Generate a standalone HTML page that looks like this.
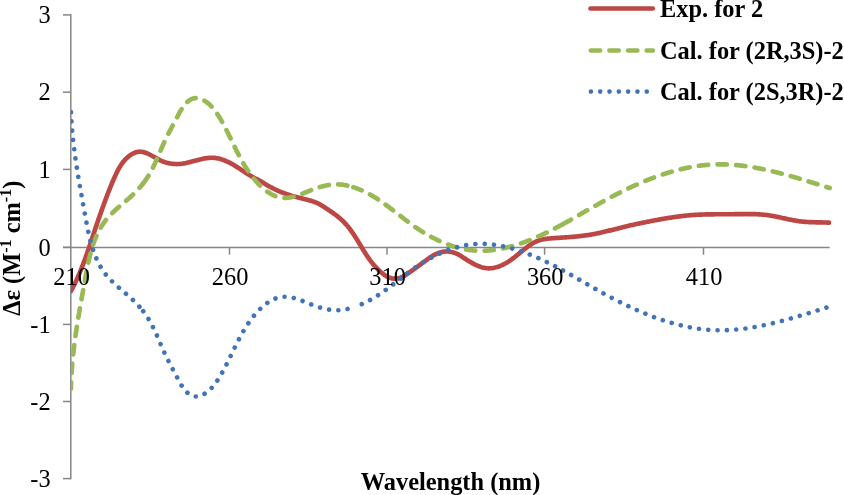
<!DOCTYPE html>
<html><head><meta charset="utf-8"><style>
html,body{margin:0;padding:0;background:#fff;width:844px;height:495px;overflow:hidden}
svg{display:block;will-change:transform}
.t{font-family:"Liberation Serif",serif;font-size:24.4px;fill:#000}
.b{font-family:"Liberation Serif",serif;font-size:24.4px;font-weight:bold;fill:#000}
</style></head><body>
<svg width="844" height="495" viewBox="0 0 844 495">
<defs><clipPath id="pa"><rect x="71" y="0" width="773" height="495"/></clipPath></defs>
<g stroke="#868686" stroke-width="1.5" fill="none">
<line x1="70.8" y1="14.15" x2="70.8" y2="479.35"/>
<line x1="63" y1="14.9" x2="71" y2="14.9"/>
<line x1="63" y1="92.2" x2="71" y2="92.2"/>
<line x1="63" y1="169.4" x2="71" y2="169.4"/>
<line x1="63" y1="247.3" x2="71" y2="247.3"/>
<line x1="63" y1="324.4" x2="71" y2="324.4"/>
<line x1="63" y1="401.5" x2="71" y2="401.5"/>
<line x1="63" y1="478.6" x2="71" y2="478.6"/>
<line x1="63" y1="247.5" x2="829.7" y2="247.5"/>
<line x1="229.5" y1="247.5" x2="229.5" y2="254.7"/>
<line x1="387" y1="247.5" x2="387" y2="254.7"/>
<line x1="544.6" y1="247.5" x2="544.6" y2="254.7"/>
<line x1="703.5" y1="247.5" x2="703.5" y2="254.7"/>
</g>
<g clip-path="url(#pa)" fill="none" stroke-width="4.65" stroke-linecap="round" stroke-linejoin="round">
<path d="M70.91,291.07L71.39,290.19L71.87,289.31L72.34,288.43L72.81,287.54L73.27,286.65L73.72,285.76L74.17,284.87L74.61,283.97L75.05,283.07L75.49,282.17L75.92,281.27L76.34,280.37L76.76,279.46L77.18,278.56L77.59,277.65L77.99,276.73L78.40,275.82L78.79,274.91L79.19,273.99L79.58,273.07L79.96,272.15L80.35,271.23L80.72,270.30L81.10,269.38L81.47,268.45L81.84,267.53L82.21,266.60L82.57,265.67L82.93,264.73L83.28,263.80L83.63,262.87L83.99,261.93L84.33,260.99L84.68,260.06L85.02,259.12L85.36,258.18L85.70,257.24L86.03,256.30L86.37,255.35L86.70,254.41L87.03,253.47L87.36,252.52L87.68,251.58L88.01,250.63L88.33,249.68L88.65,248.74L88.97,247.79L89.29,246.84L89.61,245.89L89.93,244.94L90.25,243.99L90.56,243.04L90.88,242.09L91.19,241.14L91.51,240.19L91.82,239.24L92.13,238.29L92.45,237.34L92.76,236.39L93.07,235.44L93.39,234.49L93.70,233.54L94.02,232.59L94.33,231.64L94.64,230.69L94.96,229.74L95.28,228.79L95.59,227.84L95.91,226.90L96.23,225.95L96.55,225.00L96.87,224.05L97.19,223.11L97.52,222.16L97.84,221.22L98.17,220.27L98.49,219.33L98.82,218.38L99.15,217.44L99.48,216.50L99.81,215.55L100.14,214.61L100.48,213.67L100.81,212.73L101.14,211.79L101.48,210.85L101.82,209.90L102.15,208.96L102.49,208.02L102.83,207.08L103.17,206.14L103.51,205.21L103.86,204.27L104.20,203.33L104.54,202.39L104.89,201.45L105.23,200.51L105.58,199.58L105.93,198.64L106.28,197.70L106.63,196.76L106.98,195.83L107.33,194.89L107.69,193.96L108.05,193.02L108.41,192.09L108.77,191.16L109.13,190.23L109.50,189.30L109.86,188.37L110.23,187.44L110.61,186.51L110.98,185.59L111.36,184.67L111.75,183.74L112.13,182.82L112.52,181.91L112.91,180.99L113.31,180.07L113.71,179.16L114.11,178.25L114.52,177.34L114.93,176.44L115.35,175.53L115.77,174.63L116.19,173.73L116.62,172.83L117.06,171.94L117.50,171.05L117.96,170.17L118.43,169.29L118.91,168.42L119.40,167.55L119.91,166.69L120.43,165.84L120.97,165.00L121.54,164.17L122.12,163.35L122.72,162.54L123.35,161.74L124.00,160.95L124.68,160.17L125.39,159.41L126.12,158.67L126.87,157.94L127.65,157.24L128.44,156.57L129.25,155.93L130.08,155.32L130.93,154.74L131.79,154.21L132.66,153.72L133.54,153.27L134.44,152.87L135.34,152.53L136.25,152.23L137.16,152.00L138.08,151.83L139.00,151.72L139.92,151.68L140.84,151.70L141.76,151.79L142.68,151.94L143.60,152.14L144.52,152.40L145.44,152.70L146.36,153.04L147.28,153.42L148.20,153.83L149.12,154.27L150.04,154.73L150.97,155.22L151.89,155.72L152.82,156.23L153.74,156.76L154.67,157.28L155.60,157.81L156.53,158.32L157.46,158.83L158.39,159.33L159.32,159.81L160.26,160.27L161.20,160.70L162.13,161.10L163.07,161.47L164.02,161.82L164.96,162.15L165.90,162.44L166.85,162.72L167.80,162.96L168.75,163.18L169.70,163.38L170.65,163.54L171.61,163.69L172.57,163.81L173.53,163.90L174.49,163.98L175.45,164.02L176.41,164.05L177.38,164.05L178.35,164.02L179.32,163.98L180.29,163.91L181.26,163.81L182.24,163.70L183.22,163.56L184.19,163.40L185.18,163.23L186.16,163.03L187.14,162.82L188.13,162.59L189.11,162.36L190.10,162.11L191.09,161.85L192.08,161.59L193.07,161.32L194.06,161.05L195.05,160.78L196.04,160.51L197.04,160.24L198.03,159.97L199.02,159.72L200.01,159.47L201.00,159.23L201.99,159.00L202.98,158.78L203.97,158.58L204.96,158.40L205.95,158.24L206.93,158.10L207.92,157.98L208.90,157.88L209.88,157.81L210.86,157.77L211.84,157.77L212.81,157.79L213.79,157.84L214.76,157.93L215.73,158.05L216.69,158.20L217.66,158.38L218.62,158.59L219.58,158.82L220.53,159.08L221.48,159.37L222.43,159.68L223.37,160.01L224.31,160.36L225.24,160.74L226.17,161.13L227.10,161.54L228.02,161.97L228.94,162.42L229.85,162.88L230.75,163.35L231.65,163.84L232.55,164.33L233.44,164.84L234.32,165.36L235.20,165.89L236.07,166.42L236.93,166.97L237.79,167.51L238.64,168.06L239.48,168.61L240.32,169.17L241.15,169.73L241.98,170.28L242.80,170.84L243.61,171.39L244.43,171.94L245.25,172.48L246.07,173.02L246.89,173.56L247.71,174.09L248.54,174.61L249.38,175.12L250.22,175.62L251.08,176.11L251.94,176.60L252.81,177.07L253.68,177.54L254.56,178.01L255.45,178.48L256.33,178.94L257.21,179.41L258.10,179.88L258.98,180.36L259.86,180.84L260.73,181.34L261.60,181.84L262.47,182.35L263.33,182.86L264.19,183.38L265.06,183.90L265.92,184.41L266.78,184.93L267.64,185.44L268.51,185.94L269.38,186.44L270.25,186.93L271.13,187.41L272.01,187.88L272.90,188.34L273.79,188.78L274.69,189.22L275.58,189.65L276.49,190.07L277.40,190.48L278.31,190.89L279.22,191.28L280.14,191.66L281.06,192.04L281.99,192.41L282.92,192.77L283.85,193.12L284.79,193.46L285.73,193.80L286.67,194.13L287.62,194.45L288.57,194.77L289.52,195.08L290.47,195.38L291.43,195.67L292.39,195.96L293.35,196.24L294.31,196.52L295.28,196.79L296.25,197.06L297.22,197.31L298.19,197.57L299.17,197.82L300.14,198.06L301.12,198.30L302.10,198.54L303.08,198.77L304.06,199.01L305.04,199.24L306.02,199.48L306.99,199.72L307.96,199.97L308.93,200.23L309.89,200.49L310.85,200.77L311.80,201.06L312.74,201.36L313.67,201.67L314.60,202.00L315.52,202.35L316.43,202.72L317.33,203.11L318.22,203.52L319.09,203.95L319.95,204.41L320.81,204.90L321.65,205.40L322.48,205.93L323.31,206.46L324.14,207.01L324.96,207.56L325.79,208.11L326.62,208.67L327.45,209.22L328.28,209.78L329.12,210.34L329.95,210.91L330.78,211.47L331.61,212.04L332.44,212.62L333.26,213.20L334.08,213.79L334.89,214.38L335.70,214.98L336.50,215.59L337.29,216.20L338.08,216.83L338.85,217.46L339.62,218.10L340.38,218.75L341.12,219.41L341.85,220.08L342.58,220.76L343.28,221.46L343.98,222.16L344.66,222.88L345.34,223.60L346.00,224.34L346.65,225.09L347.29,225.84L347.92,226.60L348.54,227.38L349.16,228.16L349.76,228.94L350.36,229.74L350.95,230.54L351.53,231.35L352.10,232.16L352.67,232.98L353.23,233.81L353.79,234.64L354.34,235.47L354.88,236.31L355.43,237.15L355.96,238.00L356.50,238.85L357.03,239.70L357.56,240.56L358.08,241.41L358.61,242.27L359.13,243.13L359.65,243.99L360.18,244.85L360.70,245.71L361.22,246.57L361.74,247.43L362.27,248.29L362.79,249.15L363.32,250.00L363.85,250.86L364.38,251.71L364.91,252.56L365.45,253.40L366.00,254.24L366.54,255.08L367.10,255.91L367.65,256.74L368.22,257.56L368.79,258.38L369.36,259.19L369.95,260.00L370.54,260.80L371.14,261.59L371.74,262.37L372.36,263.15L372.98,263.92L373.62,264.68L374.26,265.44L374.92,266.19L375.59,266.93L376.27,267.66L376.96,268.39L377.67,269.11L378.39,269.82L379.12,270.53L379.87,271.22L380.63,271.91L381.41,272.58L382.21,273.25L383.01,273.89L383.83,274.51L384.67,275.10L385.52,275.65L386.38,276.18L387.26,276.66L388.14,277.10L389.04,277.50L389.96,277.84L390.88,278.12L391.81,278.35L392.76,278.51L393.72,278.61L394.68,278.65L395.65,278.62L396.62,278.53L397.58,278.38L398.54,278.18L399.50,277.92L400.44,277.60L401.37,277.24L402.29,276.83L403.20,276.38L404.10,275.90L404.99,275.38L405.86,274.84L406.73,274.28L407.59,273.70L408.44,273.12L409.27,272.53L410.11,271.93L410.93,271.35L411.75,270.77L412.56,270.19L413.36,269.62L414.16,269.05L414.96,268.49L415.75,267.92L416.55,267.35L417.34,266.78L418.13,266.21L418.93,265.63L419.72,265.04L420.52,264.45L421.33,263.84L422.14,263.23L422.95,262.62L423.77,262.00L424.59,261.38L425.42,260.77L426.26,260.15L427.09,259.54L427.94,258.94L428.79,258.35L429.64,257.77L430.50,257.20L431.37,256.64L432.24,256.11L433.12,255.59L434.00,255.09L434.89,254.62L435.79,254.17L436.69,253.75L437.60,253.36L438.52,253.00L439.44,252.68L440.38,252.38L441.31,252.13L442.26,251.91L443.21,251.74L444.18,251.61L445.14,251.52L446.12,251.48L447.10,251.49L448.08,251.53L449.06,251.62L450.04,251.75L451.02,251.92L451.99,252.12L452.95,252.37L453.90,252.65L454.84,252.97L455.76,253.32L456.67,253.70L457.56,254.12L458.44,254.57L459.30,255.04L460.15,255.54L461.00,256.05L461.84,256.59L462.68,257.13L463.52,257.68L464.36,258.24L465.21,258.80L466.07,259.36L466.94,259.91L467.81,260.47L468.70,261.01L469.59,261.55L470.48,262.08L471.39,262.61L472.30,263.11L473.21,263.61L474.13,264.09L475.06,264.55L475.99,264.99L476.92,265.41L477.86,265.82L478.81,266.19L479.75,266.55L480.70,266.87L481.66,267.17L482.61,267.43L483.57,267.67L484.53,267.87L485.49,268.04L486.45,268.17L487.41,268.26L488.38,268.31L489.34,268.32L490.30,268.29L491.27,268.23L492.23,268.12L493.19,267.98L494.15,267.81L495.10,267.60L496.05,267.36L497.00,267.09L497.95,266.79L498.89,266.46L499.82,266.10L500.75,265.72L501.67,265.32L502.59,264.89L503.50,264.44L504.40,263.97L505.30,263.48L506.18,262.98L507.06,262.46L507.93,261.92L508.79,261.37L509.63,260.81L510.47,260.24L511.30,259.65L512.11,259.06L512.92,258.46L513.72,257.86L514.51,257.25L515.29,256.63L516.07,256.01L516.84,255.38L517.61,254.75L518.38,254.12L519.14,253.49L519.90,252.85L520.67,252.22L521.43,251.59L522.20,250.95L522.97,250.32L523.74,249.70L524.52,249.08L525.31,248.46L526.10,247.84L526.90,247.24L527.71,246.64L528.52,246.05L529.35,245.47L530.19,244.89L531.05,244.33L531.91,243.78L532.79,243.26L533.67,242.75L534.57,242.28L535.47,241.83L536.39,241.42L537.31,241.04L538.25,240.69L539.18,240.38L540.13,240.10L541.08,239.84L542.04,239.61L543.01,239.40L543.98,239.22L544.96,239.05L545.94,238.90L546.92,238.77L547.91,238.66L548.90,238.55L549.89,238.46L550.89,238.37L551.88,238.29L552.88,238.22L553.88,238.15L554.88,238.08L555.87,238.01L556.87,237.94L557.87,237.88L558.87,237.81L559.87,237.74L560.87,237.68L561.86,237.61L562.86,237.55L563.86,237.48L564.86,237.41L565.86,237.34L566.85,237.27L567.85,237.20L568.85,237.13L569.84,237.05L570.84,236.97L571.84,236.89L572.83,236.81L573.83,236.73L574.82,236.64L575.82,236.55L576.81,236.45L577.80,236.35L578.80,236.25L579.79,236.14L580.78,236.03L581.77,235.92L582.76,235.80L583.75,235.67L584.74,235.54L585.72,235.41L586.71,235.27L587.70,235.12L588.68,234.97L589.66,234.81L590.65,234.64L591.63,234.47L592.61,234.29L593.59,234.11L594.57,233.92L595.55,233.73L596.53,233.53L597.51,233.33L598.48,233.12L599.46,232.91L600.44,232.70L601.41,232.48L602.39,232.25L603.36,232.03L604.33,231.80L605.31,231.57L606.28,231.34L607.25,231.10L608.23,230.86L609.20,230.62L610.17,230.38L611.14,230.14L612.12,229.89L613.09,229.65L614.06,229.40L615.03,229.16L616.00,228.91L616.98,228.67L617.95,228.42L618.92,228.18L619.89,227.93L620.86,227.69L621.84,227.45L622.81,227.21L623.78,226.97L624.76,226.73L625.73,226.50L626.70,226.26L627.68,226.03L628.65,225.80L629.63,225.58L630.61,225.35L631.58,225.13L632.56,224.91L633.54,224.69L634.51,224.48L635.49,224.26L636.47,224.05L637.45,223.84L638.42,223.63L639.40,223.42L640.38,223.22L641.36,223.01L642.34,222.81L643.32,222.61L644.30,222.41L645.28,222.21L646.26,222.02L647.24,221.82L648.22,221.63L649.20,221.44L650.18,221.25L651.16,221.06L652.15,220.87L653.13,220.68L654.11,220.50L655.09,220.31L656.07,220.13L657.06,219.95L658.04,219.77L659.02,219.59L660.01,219.41L660.99,219.24L661.97,219.06L662.96,218.89L663.94,218.72L664.93,218.55L665.91,218.38L666.90,218.22L667.88,218.06L668.87,217.90L669.85,217.74L670.84,217.59L671.83,217.44L672.81,217.29L673.80,217.14L674.79,217.00L675.77,216.86L676.76,216.72L677.75,216.59L678.74,216.46L679.73,216.33L680.72,216.21L681.71,216.09L682.70,215.97L683.69,215.86L684.68,215.75L685.68,215.65L686.67,215.55L687.66,215.45L688.65,215.36L689.65,215.28L690.64,215.19L691.64,215.12L692.63,215.04L693.63,214.97L694.62,214.91L695.62,214.85L696.62,214.79L697.62,214.74L698.61,214.69L699.61,214.65L700.61,214.60L701.61,214.57L702.61,214.53L703.61,214.50L704.61,214.47L705.61,214.44L706.61,214.42L707.61,214.40L708.61,214.38L709.61,214.36L710.61,214.34L711.62,214.33L712.62,214.32L713.62,214.31L714.62,214.30L715.63,214.29L716.63,214.28L717.63,214.28L718.63,214.27L719.64,214.27L720.64,214.26L721.64,214.26L722.64,214.26L723.65,214.25L724.65,214.25L725.65,214.25L726.66,214.24L727.66,214.24L728.66,214.24L729.66,214.23L730.67,214.22L731.67,214.22L732.67,214.21L733.67,214.20L734.67,214.19L735.68,214.17L736.68,214.16L737.68,214.15L738.68,214.13L739.68,214.12L740.68,214.10L741.68,214.09L742.68,214.08L743.68,214.07L744.68,214.06L745.68,214.05L746.68,214.05L747.68,214.05L748.67,214.05L749.67,214.05L750.67,214.06L751.66,214.08L752.66,214.09L753.66,214.12L754.65,214.15L755.65,214.18L756.64,214.22L757.63,214.27L758.63,214.32L759.62,214.38L760.61,214.45L761.60,214.53L762.59,214.61L763.58,214.70L764.57,214.80L765.56,214.91L766.55,215.03L767.54,215.16L768.53,215.30L769.51,215.45L770.50,215.61L771.49,215.77L772.47,215.95L773.45,216.13L774.44,216.31L775.42,216.51L776.41,216.70L777.39,216.90L778.37,217.11L779.36,217.32L780.34,217.53L781.32,217.74L782.30,217.95L783.29,218.17L784.27,218.38L785.25,218.60L786.24,218.81L787.22,219.02L788.20,219.23L789.19,219.43L790.17,219.64L791.16,219.83L792.14,220.03L793.13,220.21L794.12,220.39L795.10,220.57L796.09,220.74L797.08,220.89L798.07,221.04L799.06,221.19L800.05,221.32L801.04,221.44L802.04,221.55L803.03,221.65L804.02,221.74L805.02,221.82L806.02,221.89L807.01,221.96L808.01,222.02L809.01,222.07L810.01,222.12L811.00,222.16L812.00,222.19L813.00,222.23L814.00,222.26L815.00,222.28L816.00,222.31L817.00,222.33L818.00,222.35L819.00,222.37L820.00,222.39L821.00,222.41L822.00,222.43L823.00,222.45L824.00,222.48L825.00,222.51L826.00,222.54L827.00,222.58L828.00,222.62L829.00,222.67" stroke="#BC4744"/>
<path d="M70.92,388.68L70.93,388.16L70.94,387.64L70.95,387.12L70.97,386.60L70.98,386.09L71.00,385.57L71.01,385.05L71.03,384.54L71.05,384.02L71.06,383.51L71.08,382.99L71.10,382.48L71.12,381.97L71.14,381.45L71.16,380.94L71.19,380.43L71.21,379.92L71.23,379.41L71.26,378.89L71.28,378.38L71.31,377.87L71.33,377.36L71.36,376.85L71.39,376.35L71.41,375.84L71.44,375.33L71.47,374.82L71.50,374.31L71.53,373.81L71.56,373.30L71.60,372.79L71.63,372.29L71.66,371.78L71.69,371.28L71.73,370.77L71.76,370.27L71.80,369.76L71.83,369.26L71.87,368.76L71.91,368.25L71.95,367.75L71.98,367.25L72.02,366.75L72.06,366.25L72.10,365.74L72.14,365.24L72.19,364.74L72.23,364.24L72.27,363.74L72.31,363.24L72.36,362.74L72.40,362.24L72.45,361.74L72.49,361.25L72.54,360.75L72.58,360.25L72.63,359.75L72.68,359.25L72.73,358.76L72.77,358.26L72.82,357.76L72.87,357.27L72.92,356.77L72.97,356.28L73.02,355.78L73.08,355.28L73.13,354.79L73.18,354.29L73.23,353.80L73.29,353.30L73.34,352.81L73.40,352.32L73.45,351.82L73.51,351.33L73.56,350.84L73.62,350.34L73.68,349.85L73.73,349.36L73.79,348.86L73.85,348.37L73.91,347.88L73.97,347.39L74.03,346.90L74.09,346.40L74.15,345.91L74.21,345.42L74.27,344.93L74.33,344.44L74.39,343.95L74.46,343.46L74.52,342.97L74.58,342.48L74.65,341.99L74.71,341.50L74.78,341.01L74.84,340.52L74.91,340.03L74.97,339.54L75.04,339.05L75.11,338.56L75.18,338.07L75.24,337.58L75.31,337.09L75.38,336.60L75.45,336.11L75.52,335.63L75.59,335.14L75.66,334.65L75.73,334.16L75.80,333.67L75.87,333.18L75.94,332.70L76.01,332.21L76.09,331.72L76.16,331.23L76.23,330.74L76.30,330.26L76.38,329.77L76.45,329.28L76.53,328.79L76.60,328.31L76.68,327.82L76.75,327.33L76.83,326.84L76.90,326.36L76.98,325.87L77.05,325.38L77.13,324.89L77.21,324.41L77.29,323.92L77.36,323.43L77.44,322.95L77.52,322.46L77.60,321.97L77.68,321.48L77.76,321.00L77.83,320.51L77.91,320.02L77.99,319.53L78.07,319.05L78.15,318.56L78.24,318.07L78.32,317.58L78.40,317.10L78.48,316.61L78.56,316.12L78.64,315.63L78.72,315.15L78.81,314.66L78.89,314.17L78.97,313.68L79.06,313.20L79.14,312.71L79.22,312.22L79.31,311.73L79.39,311.24L79.47,310.75L79.56,310.27L79.64,309.78L79.73,309.29L79.81,308.80L79.90,308.31L79.98,307.82L80.07,307.33L80.15,306.84L80.24,306.36L80.33,305.87L80.41,305.38L80.50,304.89L80.59,304.40L80.67,303.91L80.76,303.42L80.85,302.93L80.93,302.44L81.02,301.95L81.11,301.46L81.20,300.96L81.28,300.47L81.37,299.98L81.46,299.49L81.55,299.00L81.64,298.51L81.73,298.02L81.81,297.52L81.90,297.03L81.99,296.54L82.08,296.05L82.17,295.55L82.26,295.06L82.35,294.57L82.44,294.07L82.53,293.58L82.62,293.09L82.71,292.59L82.80,292.10L82.89,291.60L82.98,291.11L83.07,290.61L83.16,290.12L83.25,289.62L83.34,289.13L83.43,288.63L83.52,288.14L83.61,287.64L83.70,287.14L83.79,286.65L83.88,286.15L83.97,285.65L84.06,285.15L84.15,284.65L84.24,284.16L84.33,283.66L84.42,283.16L84.51,282.66L84.60,282.16L84.69,281.66L84.78,281.16L84.87,280.66L84.97,280.16L85.06,279.66L85.15,279.16L85.24,278.65L85.33,278.15L85.42,277.65L85.51,277.15L85.60,276.65L85.70,276.14L85.79,275.64L85.88,275.14L85.97,274.63L86.06,274.13L86.16,273.63L86.25,273.13L86.35,272.62L86.44,272.12L86.53,271.62L86.63,271.11L86.73,270.61L86.82,270.11L86.92,269.60L87.02,269.10L87.11,268.60L87.21,268.10L87.31,267.59L87.41,267.09L87.51,266.59L87.61,266.09L87.72,265.59L87.82,265.08L87.92,264.58L88.03,264.08L88.13,263.58L88.24,263.08L88.34,262.58L88.45,262.08L88.56,261.58L88.67,261.08L88.78,260.59L88.89,260.09L89.01,259.59L89.12,259.09L89.24,258.60L89.35,258.10L89.47,257.61L89.59,257.11L89.71,256.62L89.83,256.13L89.95,255.63L90.07,255.14L90.20,254.65L90.33,254.16L90.45,253.67L90.58,253.18L90.71,252.69L90.84,252.20L90.98,251.71L91.11,251.23L91.25,250.74L91.39,250.26L91.52,249.77L91.66,249.29L91.81,248.81L91.95,248.33L92.10,247.84L92.24,247.37L92.39,246.89L92.54,246.41L92.70,245.93L92.85,245.46L93.01,244.98L93.16,244.51L93.32,244.04L93.49,243.56L93.65,243.09L93.82,242.63L93.98,242.16L94.15,241.69L94.32,241.22L94.50,240.76L94.67,240.30L94.85,239.83L95.03,239.37L95.21,238.91L95.40,238.46L95.58,238.00L95.77,237.54L95.96,237.09L96.15,236.64L96.35,236.18L96.55,235.73L96.75,235.29L96.95,234.84L97.15,234.39L97.36,233.95L97.57,233.51L97.78,233.06L98.00,232.62L98.21,232.19L98.43,231.75L98.65,231.31L98.88,230.88L99.11,230.45L99.34,230.02L99.57,229.59L99.80,229.16L100.04,228.74L100.28,228.32L100.53,227.89L100.77,227.47L101.02,227.06L101.27,226.64L101.53,226.22L101.79,225.81L102.05,225.40L102.31,224.99L102.58,224.59L102.85,224.18L103.12,223.78L103.39,223.38L103.67,222.98L103.95,222.58L104.24,222.18L104.53,221.79L104.82,221.40L105.11,221.01L105.41,220.62L105.71,220.24L106.01,219.86L106.32,219.48L106.63,219.10L106.95,218.72L107.26,218.35L107.58,217.97L107.91,217.60L108.23,217.23L108.56,216.87L108.89,216.50L109.23,216.14L109.56,215.78L109.90,215.42L110.25,215.06L110.59,214.71L110.94,214.35L111.29,214.00L111.64,213.65L111.99,213.29L112.35,212.95L112.71,212.60L113.07,212.25L113.43,211.91L113.79,211.56L114.16,211.22L114.52,210.88L114.89,210.54L115.26,210.20L115.63,209.86L116.01,209.52L116.38,209.18L116.75,208.85L117.13,208.51L117.51,208.18L117.89,207.84L118.27,207.51L118.65,207.18L119.03,206.85L119.41,206.52L119.79,206.19L120.17,205.85L120.56,205.52L120.94,205.20L121.33,204.87L121.71,204.54L122.10,204.21L122.48,203.88L122.87,203.55L123.25,203.22L123.64,202.89L124.02,202.56L124.41,202.24L124.79,201.91L125.18,201.58L125.56,201.25L125.94,200.92L126.33,200.59L126.71,200.26L127.09,199.93L127.47,199.60L127.85,199.27L128.23,198.94L128.61,198.61L128.98,198.27L129.36,197.94L129.73,197.61L130.11,197.27L130.48,196.93L130.85,196.60L131.22,196.26L131.59,195.92L131.95,195.58L132.32,195.24L132.68,194.90L133.04,194.56L133.40,194.22L133.76,193.87L134.11,193.53L134.46,193.18L134.82,192.83L135.16,192.48L135.51,192.13L135.86,191.78L136.20,191.43L136.54,191.07L136.88,190.72L137.22,190.36L137.55,190.00L137.89,189.64L138.22,189.28L138.55,188.92L138.87,188.55L139.20,188.19L139.52,187.82L139.84,187.45L140.16,187.08L140.48,186.71L140.80,186.34L141.11,185.96L141.42,185.59L141.73,185.21L142.04,184.83L142.34,184.45L142.64,184.06" stroke="#98B954" stroke-dasharray="9.31 9.31" stroke-dashoffset="2.9"/>
<path d="M142.64,184.06L142.95,183.68L143.25,183.29L143.54,182.91L143.84,182.52L144.13,182.12L144.42,181.73L144.71,181.34L145.00,180.94L145.28,180.54L145.56,180.14L145.84,179.74L146.12,179.33L146.40,178.93L146.67,178.52L146.94,178.11L147.21,177.69L147.48,177.28L147.75,176.86L148.01,176.45L148.27,176.03L148.53,175.60L148.79,175.18L149.05,174.75L149.30,174.32L149.55,173.89L149.80,173.46L150.05,173.03L150.29,172.59L150.54,172.15L150.78,171.71L151.02,171.27L151.26,170.83L151.49,170.38L151.73,169.94L151.96,169.49L152.19,169.04L152.42,168.59L152.65,168.14L152.88,167.69L153.11,167.23L153.33,166.78L153.55,166.32L153.77,165.87L154.00,165.41L154.21,164.95L154.43,164.49L154.65,164.03L154.87,163.56L155.08,163.10L155.29,162.64L155.51,162.17L155.72,161.71L155.93,161.24L156.14,160.78L156.35,160.31L156.56,159.84L156.76,159.38L156.97,158.91L157.18,158.44L157.38,157.97L157.59,157.50L157.79,157.03L157.99,156.57L158.20,156.10L158.40,155.63L158.60,155.16L158.80,154.69L159.01,154.22L159.21,153.75L159.41,153.28L159.61,152.82L159.81,152.35L160.01,151.88L160.21,151.41L160.41,150.95L160.61,150.48L160.81,150.02L161.01,149.55L161.21,149.09L161.41,148.62L161.61,148.16L161.81,147.70L162.01,147.24L162.21,146.78L162.41,146.32L162.62,145.86L162.82,145.40L163.02,144.94L163.22,144.49L163.43,144.03L163.63,143.58L163.83,143.13L164.04,142.68L164.25,142.23L164.45,141.78L164.66,141.34L164.87,140.89L165.08,140.45L165.28,140.01L165.49,139.57L165.71,139.13L165.92,138.69L166.13,138.25L166.34,137.81L166.56,137.38L166.77,136.94L166.99,136.51L167.20,136.08L167.42,135.64L167.63,135.21L167.85,134.78L168.07,134.35L168.29,133.92L168.51,133.49L168.73,133.06L168.95,132.63L169.18,132.20L169.40,131.77L169.62,131.34L169.85,130.91L170.07,130.48L170.30,130.05L170.52,129.61L170.75,129.18L170.98,128.75L171.21,128.32L171.43,127.89L171.66,127.45L171.89,127.02L172.13,126.58L172.36,126.15L172.59,125.71L172.82,125.27L173.06,124.84L173.29,124.40L173.53,123.96L173.76,123.51L174.00,123.07L174.23,122.62L174.47,122.18L174.71,121.73L174.95,121.28L175.19,120.83L175.43,120.38L175.67,119.92L175.91,119.47L176.15,119.01L176.40,118.55L176.64,118.09L176.88,117.62L177.13,117.16L177.37,116.69L177.62,116.22L177.87,115.74L178.12,115.27L178.36,114.80L178.62,114.32L178.87,113.85L179.12,113.37L179.38,112.90L179.64,112.43L179.90,111.96L180.16,111.49L180.42,111.02L180.69,110.56L180.96,110.09L181.24,109.63L181.51,109.18L181.79,108.73L182.08,108.28L182.37,107.84L182.66,107.40L182.95,106.97L183.25,106.54L183.55,106.12L183.86,105.70L184.17,105.30L184.49,104.90L184.81,104.50L185.14,104.12L185.47,103.74L185.81,103.37L186.15,103.01L186.50,102.66L186.86,102.32L187.22,101.99L187.59,101.67L187.96,101.36L188.34,101.06L188.72,100.77L189.12,100.50L189.52,100.23L189.92,99.98L190.33,99.75L190.74,99.52L191.16,99.31L191.59,99.12L192.01,98.94L192.44,98.77L192.88,98.62L193.32,98.49L193.76,98.38L194.20,98.28L194.64,98.20L195.09,98.13L195.54,98.09L195.99,98.07L196.44,98.06L196.89,98.07L197.34,98.11L197.79,98.16L198.24,98.23L198.69,98.31L199.14,98.42L199.59,98.53L200.03,98.67L200.48,98.81L200.92,98.97L201.36,99.14L201.80,99.33L202.23,99.52L202.66,99.73L203.09,99.95L203.51,100.17L203.93,100.41L204.35,100.65L204.76,100.90L205.17,101.15L205.57,101.41L205.97,101.68L206.37,101.96L206.76,102.24L207.14,102.53L207.53,102.83L207.91,103.13L208.28,103.44L208.65,103.75L209.02,104.07L209.38,104.40L209.74,104.73L210.09,105.07L210.45,105.41L210.79,105.76L211.14,106.11L211.48,106.47L211.82,106.83L212.15,107.20L212.48,107.57L212.81,107.94L213.14,108.32L213.46,108.71L213.78,109.10L214.09,109.49L214.41,109.88L214.72,110.28L215.02,110.69L215.33,111.09L215.63,111.50L215.93,111.92L216.22,112.33L216.52,112.75L216.81,113.18L217.10,113.60L217.38,114.03L217.66,114.46L217.95,114.89L218.22,115.33L218.50,115.76L218.78,116.20L219.05,116.64L219.32,117.08L219.59,117.53L219.85,117.97L220.12,118.42L220.38,118.87L220.64,119.31L220.90,119.76L221.16,120.21L221.41,120.66L221.67,121.12L221.92,121.57L222.17,122.02L222.42,122.47L222.67,122.92L222.92,123.38L223.16,123.83L223.41,124.28L223.65,124.74L223.89,125.19L224.13,125.64L224.37,126.09L224.61,126.55L224.85,127.00L225.08,127.45L225.32,127.91L225.55,128.36L225.79,128.81L226.02,129.27L226.25,129.72L226.48,130.17L226.71,130.62L226.94,131.08L227.17,131.53L227.39,131.98L227.62,132.44L227.85,132.89L228.07,133.34L228.29,133.79L228.52,134.25L228.74,134.70L228.96,135.15L229.19,135.60L229.41,136.06L229.63,136.51L229.85,136.96L230.07,137.41L230.29,137.86L230.51,138.31L230.73,138.76L230.95,139.22L231.17,139.67L231.38,140.12L231.60,140.57L231.82,141.02L232.04,141.47L232.26,141.92L232.47,142.36L232.69,142.81L232.91,143.26L233.13,143.71L233.34,144.16L233.56,144.61L233.78,145.05L234.00,145.50L234.21,145.95L234.43,146.39L234.65,146.84L234.87,147.29L235.09,147.73L235.31,148.18L235.53,148.62L235.75,149.06L235.97,149.51L236.19,149.95L236.41,150.40L236.63,150.84L236.85,151.28L237.08,151.72L237.30,152.16L237.52,152.60L237.75,153.04L237.97,153.48L238.20,153.92L238.43,154.36L238.65,154.80L238.88,155.24L239.11,155.68L239.34,156.11L239.57,156.55L239.80,156.98L240.04,157.42L240.27,157.85L240.51,158.29L240.74,158.72L240.98,159.15L241.22,159.59L241.45,160.02L241.69,160.45L241.94,160.88L242.18,161.31L242.42,161.74L242.67,162.17L242.91,162.60L243.16,163.02L243.41,163.45L243.66,163.87L243.91,164.30L244.17,164.72L244.42,165.15L244.68,165.57L244.93,165.99L245.19,166.41L245.45,166.84L245.72,167.26L245.98,167.67L246.25,168.09L246.51,168.51L246.78,168.93L247.05,169.34L247.33,169.76L247.60,170.17L247.88,170.59L248.16,171.00L248.44,171.41L248.72,171.82L249.00,172.23L249.29,172.64L249.58,173.05L249.87,173.46L250.16,173.87L250.46,174.27L250.75,174.68L251.05,175.08L251.36,175.48L251.66,175.89L251.96,176.29L252.27,176.69L252.58,177.09L252.90,177.49L253.21,177.88L253.53,178.28L253.85,178.67L254.17,179.07L254.50,179.46L254.83,179.85L255.16,180.25L255.49,180.64L255.82,181.02L256.16,181.41L256.50,181.79L256.85,182.18L257.19,182.56L257.54,182.94L257.89,183.32L258.24,183.69L258.59,184.06L258.95,184.43L259.31,184.80L259.67,185.16L260.04,185.53L260.40,185.89L260.77,186.24L261.14,186.59L261.51,186.94L261.89,187.29L262.27,187.63L262.65,187.97L263.03,188.31L263.41,188.64L263.80,188.97L264.19,189.29L264.58,189.61L264.97,189.92L265.37,190.24L265.76,190.54L266.16,190.84L266.56,191.14L266.97,191.43L267.37,191.72L267.78,192.00L268.19,192.28L268.60,192.55L269.01,192.82L269.43,193.08L269.84,193.33L270.26,193.58L270.68,193.83L271.11,194.07L271.53,194.30L271.96,194.52L272.39,194.74L272.82,194.96L273.25,195.16L273.68,195.36L274.12,195.56L274.56,195.74L275.00,195.92L275.44,196.10L275.88,196.26L276.32,196.42L276.77,196.57L277.22,196.71L277.67,196.85L278.12,196.98L278.57,197.10L279.03,197.21L279.49,197.31L279.94,197.41L280.40,197.50L280.87,197.57L281.33,197.65L281.79,197.71L282.26,197.76L282.73,197.81L283.20,197.84L283.67,197.87L284.14,197.89L284.61,197.89L285.09,197.89L285.57,197.88L286.04,197.86L286.52,197.84L287.00,197.80L287.49,197.76L287.97,197.71L288.45,197.65L288.94,197.58L289.43,197.51L289.91,197.42L290.40,197.34L290.89,197.24L291.38,197.14L291.87,197.03L292.37,196.92L292.86,196.80L293.35,196.67L293.85,196.54L294.34,196.41L294.84,196.27L295.33,196.12L295.83,195.97L296.33,195.82L296.82,195.66L297.32,195.49L297.82,195.33L298.32,195.16L298.82,194.98L299.32,194.81L299.82,194.63L300.31,194.44L300.81,194.26L301.31,194.07L301.81,193.88L302.31,193.69L302.81,193.49L303.31,193.30L303.81,193.10L304.31,192.90L304.81,192.70L305.30,192.50L305.80,192.30L306.30,192.10L306.80,191.90L307.29,191.70L307.79,191.50L308.28,191.30L308.78,191.10L309.27,190.90L309.76,190.71L310.26,190.51L310.75,190.32L311.24,190.12L311.73,189.93L312.22,189.74L312.71,189.56L313.19,189.37L313.68,189.19L314.16,189.01L314.65,188.84L315.13,188.66L315.62,188.49L316.10,188.32L316.58,188.15L317.06,187.99L317.54,187.83L318.02,187.67L318.50,187.51L318.98,187.36L319.46,187.21L319.94,187.07L320.41,186.92L320.89,186.78L321.37,186.65L321.85,186.51L322.32,186.38L322.80,186.26L323.27,186.13L323.75,186.01L324.22,185.90L324.70,185.79L325.18,185.68L325.65,185.57L326.13,185.47L326.60,185.37L327.08,185.28L327.55,185.19L328.03,185.11L328.50,185.03L328.98,184.95L329.45,184.88L329.93,184.81L330.41,184.75L330.88,184.69L331.36,184.63L331.84,184.58L332.31,184.54L332.79,184.50L333.27,184.46L333.75,184.43L334.23,184.40L334.71,184.38L335.19,184.37L335.67,184.35L336.15,184.35L336.64,184.35L337.12,184.35L337.60,184.36L338.09,184.37L338.57,184.39L339.06,184.42L339.55,184.45L340.03,184.48L340.52,184.52L341.01,184.57L341.50,184.62L341.99,184.68L342.48,184.74L342.97,184.80L343.46,184.87L343.95,184.95L344.44,185.03L344.93,185.11L345.43,185.20L345.92,185.29L346.41,185.39L346.90,185.49L347.39,185.60L347.88,185.71L348.37,185.82L348.86,185.94L349.35,186.07L349.85,186.19L350.33,186.32L350.82,186.46L351.31,186.59L351.80,186.74L352.29,186.88L352.78,187.03L353.26,187.18" stroke="#98B954" stroke-dasharray="9.31 9.31" stroke-dashoffset="-0.8"/>
<path d="M353.26,187.18L353.75,187.34L354.23,187.50L354.72,187.66L355.20,187.83L355.68,187.99L356.16,188.17L356.64,188.34L357.12,188.52L357.60,188.70L358.08,188.88L358.55,189.07L359.02,189.26L359.50,189.45L359.97,189.64L360.44,189.84L360.91,190.04L361.37,190.24L361.84,190.45L362.30,190.65L362.76,190.86L363.22,191.07L363.68,191.29L364.14,191.50L364.59,191.72L365.05,191.94L365.50,192.16L365.95,192.38L366.40,192.61L366.84,192.84L367.29,193.07L367.73,193.30L368.18,193.53L368.62,193.77L369.06,194.00L369.50,194.24L369.94,194.48L370.37,194.73L370.81,194.97L371.24,195.22L371.67,195.46L372.10,195.71L372.53,195.97L372.96,196.22L373.39,196.47L373.82,196.73L374.24,196.99L374.67,197.25L375.09,197.51L375.51,197.77L375.93,198.04L376.35,198.30L376.77,198.57L377.19,198.84L377.61,199.11L378.02,199.38L378.44,199.65L378.85,199.92L379.26,200.20L379.68,200.47L380.09,200.75L380.50,201.03L380.91,201.31L381.32,201.59L381.73,201.87L382.13,202.16L382.54,202.44L382.95,202.73L383.35,203.01L383.76,203.30L384.16,203.59L384.56,203.88L384.96,204.17L385.37,204.46L385.77,204.75L386.17,205.04L386.57,205.34L386.97,205.63L387.37,205.93L387.77,206.22L388.17,206.52L388.56,206.82L388.96,207.12L389.36,207.42L389.75,207.72L390.15,208.02L390.55,208.32L390.94,208.62L391.34,208.92L391.73,209.22L392.13,209.52L392.52,209.83L392.92,210.13L393.31,210.44L393.70,210.74L394.10,211.04L394.49,211.35L394.89,211.65L395.28,211.96L395.67,212.27L396.07,212.57L396.46,212.88L396.85,213.19L397.24,213.49L397.64,213.80L398.03,214.11L398.42,214.41L398.82,214.72L399.21,215.03L399.61,215.33L400.00,215.64L400.39,215.95L400.79,216.25L401.18,216.56L401.58,216.87L401.97,217.17L402.37,217.48L402.76,217.79L403.16,218.09L403.55,218.40L403.95,218.70L404.34,219.01L404.74,219.31L405.14,219.62L405.54,219.92L405.94,220.23L406.33,220.53L406.73,220.83L407.13,221.13L407.53,221.44L407.93,221.74L408.33,222.04L408.74,222.34L409.14,222.64L409.54,222.94L409.95,223.23L410.35,223.53L410.76,223.83L411.16,224.13L411.57,224.42L411.97,224.72L412.38,225.01L412.79,225.30L413.20,225.59L413.61,225.89L414.02,226.18L414.43,226.47L414.85,226.75L415.26,227.04L415.68,227.33L416.09,227.61L416.51,227.90L416.93,228.18L417.34,228.46L417.76,228.74L418.18,229.02L418.60,229.30L419.03,229.58L419.45,229.86L419.87,230.13L420.30,230.41L420.72,230.68L421.15,230.95L421.58,231.22L422.00,231.49L422.43,231.76L422.86,232.03L423.29,232.29L423.72,232.56L424.16,232.82L424.59,233.08L425.02,233.35L425.46,233.60L425.89,233.86L426.33,234.12L426.77,234.37L427.20,234.63L427.64,234.88L428.08,235.13L428.52,235.38L428.96,235.63L429.40,235.88L429.84,236.12L430.29,236.36L430.73,236.61L431.18,236.85L431.62,237.09L432.07,237.32L432.51,237.56L432.96,237.79L433.41,238.03L433.86,238.26L434.31,238.49L434.76,238.72L435.21,238.94L435.66,239.17L436.11,239.39L436.56,239.61L437.02,239.83L437.47,240.05L437.93,240.26L438.38,240.48L438.84,240.69L439.30,240.90L439.75,241.11L440.21,241.32L440.67,241.52L441.13,241.73L441.59,241.93L442.05,242.13L442.51,242.32L442.97,242.52L443.43,242.71L443.90,242.91L444.36,243.10L444.82,243.28L445.29,243.47L445.75,243.66L446.22,243.84L446.69,244.02L447.15,244.20L447.62,244.37L448.09,244.55L448.56,244.72L449.03,244.89L449.50,245.06L449.97,245.22L450.44,245.38L450.91,245.55L451.38,245.71L451.85,245.86L452.32,246.02L452.80,246.17L453.27,246.32L453.75,246.47L454.22,246.61L454.69,246.76L455.17,246.90L455.65,247.04L456.12,247.18L456.60,247.31L457.08,247.44L457.55,247.57L458.03,247.70L458.51,247.82L458.99,247.95L459.47,248.07L459.95,248.19L460.43,248.30L460.91,248.41L461.39,248.53L461.87,248.63L462.35,248.74L462.84,248.84L463.32,248.94L463.80,249.04L464.29,249.14L464.77,249.23L465.25,249.32L465.74,249.41L466.22,249.49L466.71,249.57L467.19,249.65L467.68,249.73L468.17,249.81L468.65,249.88L469.14,249.95L469.63,250.01L470.11,250.08L470.60,250.14L471.09,250.20L471.58,250.25L472.07,250.31L472.55,250.36L473.04,250.40L473.53,250.45L474.02,250.49L474.51,250.53L475.00,250.56L475.49,250.60L475.98,250.63L476.47,250.65L476.96,250.68L477.46,250.70L477.95,250.72L478.44,250.73L478.93,250.75L479.42,250.76L479.92,250.77L480.41,250.77L480.90,250.77L481.39,250.77L481.89,250.77L482.38,250.76L482.87,250.75L483.37,250.74L483.86,250.73L484.35,250.71L484.85,250.70L485.34,250.67L485.83,250.65L486.33,250.62L486.82,250.59L487.32,250.56L487.81,250.53L488.30,250.49L488.80,250.45L489.29,250.41L489.79,250.37L490.28,250.32L490.78,250.27L491.27,250.22L491.76,250.17L492.26,250.11L492.75,250.05L493.25,249.99L493.74,249.93L494.24,249.87L494.73,249.80L495.23,249.73L495.72,249.66L496.21,249.59L496.71,249.51L497.20,249.43L497.70,249.35L498.19,249.27L498.68,249.18L499.18,249.10L499.67,249.01L500.16,248.92L500.66,248.82L501.15,248.73L501.64,248.63L502.14,248.53L502.63,248.43L503.12,248.33L503.62,248.22L504.11,248.12L504.60,248.01L505.09,247.90L505.58,247.78L506.08,247.67L506.57,247.55L507.06,247.43L507.55,247.31L508.04,247.19L508.53,247.07L509.02,246.94L509.51,246.81L510.00,246.68L510.49,246.55L510.98,246.42L511.47,246.29L511.96,246.15L512.44,246.01L512.93,245.87L513.42,245.73L513.91,245.59L514.39,245.45L514.88,245.30L515.37,245.15L515.85,245.00L516.34,244.85L516.82,244.70L517.31,244.55L517.79,244.39L518.28,244.23L518.76,244.08L519.24,243.92L519.73,243.75L520.21,243.59L520.69,243.43L521.17,243.26L521.66,243.10L522.14,242.93L522.62,242.76L523.10,242.59L523.58,242.42L524.05,242.24L524.53,242.07L525.01,241.89L525.49,241.71L525.97,241.54L526.44,241.36L526.92,241.18L527.39,240.99L527.87,240.81L528.34,240.63L528.82,240.44L529.29,240.25L529.76,240.07L530.24,239.88L530.71,239.69L531.18,239.50L531.65,239.31L532.12,239.11L532.59,238.92L533.06,238.72L533.53,238.53L533.99,238.33L534.46,238.13L534.93,237.93L535.39,237.74L535.86,237.53L536.32,237.33L536.78,237.13L537.25,236.93L537.71,236.72L538.17,236.52L538.63,236.31L539.09,236.11L539.55,235.90L540.01,235.69L540.47,235.48L540.93,235.27L541.38,235.06L541.84,234.85L542.29,234.64L542.75,234.43L543.20,234.22L543.66,234.00L544.11,233.79L544.56,233.57L545.01,233.36L545.47,233.14L545.92,232.92L546.37,232.71L546.82,232.49L547.26,232.27L547.71,232.05L548.16,231.83L548.61,231.61L549.05,231.39L549.50,231.16L549.95,230.94L550.39,230.72L550.84,230.49L551.28,230.27L551.72,230.04L552.17,229.82L552.61,229.59L553.05,229.36L553.49,229.14L553.94,228.91L554.38,228.68L554.82,228.45L555.26,228.22L555.70,227.99L556.14,227.76L556.57,227.53L557.01,227.30L557.45,227.07L557.89,226.84L558.33,226.60L558.76,226.37L559.20,226.14L559.64,225.90L560.07,225.67L560.51,225.43L560.94,225.20L561.38,224.96L561.81,224.72L562.25,224.49L562.68,224.25" stroke="#98B954" stroke-dasharray="9.31 9.31" stroke-dashoffset="0.3"/>
<path d="M562.68,224.25L563.12,224.01L563.55,223.77L563.98,223.54L564.42,223.30L564.85,223.06L565.28,222.82L565.71,222.58L566.15,222.34L566.58,222.10L567.01,221.86L567.44,221.62L567.87,221.38L568.30,221.14L568.73,220.89L569.16,220.65L569.59,220.41L570.03,220.17L570.46,219.92L570.89,219.68L571.32,219.44L571.75,219.19L572.18,218.95L572.60,218.71L573.03,218.46L573.46,218.22L573.89,217.97L574.32,217.73L574.75,217.48L575.18,217.24L575.61,216.99L576.04,216.75L576.47,216.50L576.90,216.26L577.33,216.01L577.75,215.76L578.18,215.52L578.61,215.27L579.04,215.03L579.47,214.78L579.90,214.53L580.33,214.29L580.76,214.04L581.19,213.79L581.62,213.55L582.04,213.30L582.47,213.05L582.90,212.80L583.33,212.56L583.76,212.31L584.19,212.06L584.62,211.82L585.05,211.57L585.48,211.32L585.91,211.07L586.34,210.83L586.77,210.58L587.20,210.33L587.63,210.09L588.06,209.84L588.50,209.59L588.93,209.35L589.36,209.10L589.79,208.85L590.22,208.61L590.65,208.36L591.09,208.11L591.52,207.87L591.95,207.62L592.38,207.37L592.82,207.13L593.25,206.88L593.68,206.64L594.12,206.39L594.55,206.15L594.99,205.90L595.42,205.66L595.86,205.41L596.29,205.17L596.73,204.92L597.17,204.68L597.60,204.43L598.04,204.19L598.48,203.95L598.91,203.70L599.35,203.46L599.79,203.22L600.23,202.97L600.67,202.73L601.10,202.49L601.54,202.25L601.98,202.01L602.42,201.76L602.86,201.52L603.30,201.28L603.74,201.04L604.19,200.80L604.63,200.56L605.07,200.32L605.51,200.08L605.95,199.84L606.39,199.60L606.84,199.37L607.28,199.13L607.72,198.89L608.17,198.65L608.61,198.42L609.06,198.18L609.50,197.94L609.94,197.71L610.39,197.47L610.84,197.24L611.28,197.00L611.73,196.77L612.17,196.53L612.62,196.30L613.07,196.06L613.51,195.83L613.96,195.60L614.41,195.37L614.86,195.13L615.30,194.90L615.75,194.67L616.20,194.44L616.65,194.21L617.10,193.98L617.55,193.75L618.00,193.52L618.45,193.30L618.90,193.07L619.35,192.84L619.80,192.61L620.25,192.39L620.71,192.16L621.16,191.94L621.61,191.71L622.06,191.49L622.51,191.26L622.97,191.04L623.42,190.82L623.87,190.60L624.33,190.37L624.78,190.15L625.24,189.93L625.69,189.71L626.14,189.49L626.60,189.27L627.06,189.05L627.51,188.84L627.97,188.62L628.42,188.40L628.88,188.19L629.34,187.97L629.79,187.76L630.25,187.54L630.71,187.33L631.17,187.12L631.62,186.90L632.08,186.69L632.54,186.48L633.00,186.27L633.46,186.06L633.92,185.85L634.38,185.64L634.84,185.43L635.30,185.23L635.76,185.02L636.22,184.82L636.68,184.61L637.14,184.41L637.60,184.20L638.06,184.00L638.52,183.80L638.99,183.59L639.45,183.39L639.91,183.19L640.37,182.99L640.84,182.80L641.30,182.60L641.76,182.40L642.23,182.20L642.69,182.01L643.16,181.81L643.62,181.62L644.08,181.43L644.55,181.23L645.01,181.04L645.48,180.85L645.95,180.66L646.41,180.47L646.88,180.28L647.34,180.09L647.81,179.91L648.28,179.72L648.75,179.54L649.21,179.35L649.68,179.17L650.15,178.98L650.62,178.80L651.09,178.62L651.55,178.44L652.02,178.26L652.49,178.08L652.96,177.91L653.43,177.73L653.90,177.55L654.37,177.38L654.84,177.20L655.31,177.03L655.78,176.86L656.25,176.69L656.72,176.52L657.20,176.35L657.67,176.18L658.14,176.01L658.61,175.84L659.08,175.68L659.56,175.51L660.03,175.35L660.50,175.19L660.97,175.03L661.45,174.87L661.92,174.71L662.40,174.55L662.87,174.39L663.34,174.23L663.82,174.08L664.29,173.92L664.77,173.77L665.24,173.61L665.72,173.46L666.19,173.31L666.67,173.16L667.15,173.01L667.62,172.87L668.10,172.72L668.58,172.57L669.05,172.43L669.53,172.29L670.01,172.14L670.48,172.00L670.96,171.86L671.44,171.72L671.92,171.59L672.40,171.45L672.88,171.31L673.35,171.18L673.83,171.05L674.31,170.91L674.79,170.78L675.27,170.65L675.75,170.52L676.23,170.40L676.71,170.27L677.19,170.14L677.67,170.02L678.15,169.90L678.63,169.78L679.12,169.65L679.60,169.54L680.08,169.42L680.56,169.30L681.04,169.18L681.53,169.07L682.01,168.96L682.49,168.84L682.97,168.73L683.46,168.62L683.94,168.51L684.42,168.41L684.91,168.30L685.39,168.20L685.87,168.09L686.36,167.99L686.84,167.89L687.33,167.79L687.81,167.69L688.30,167.60L688.78,167.50L689.27,167.41L689.75,167.31L690.24,167.22L690.72,167.13L691.21,167.04L691.70,166.95L692.18,166.87L692.67,166.78L693.16,166.70L693.64,166.61L694.13,166.53L694.62,166.45L695.11,166.38L695.59,166.30L696.08,166.22L696.57,166.15L697.06,166.08L697.55,166.00L698.03,165.93L698.52,165.87L699.01,165.80L699.50,165.73L699.99,165.67L700.48,165.61L700.97,165.54L701.46,165.48L701.95,165.43L702.44,165.37L702.93,165.31L703.42,165.26L703.91,165.21L704.40,165.15L704.89,165.10L705.39,165.06L705.88,165.01L706.37,164.96L706.86,164.92L707.35,164.88L707.84,164.84L708.34,164.80L708.83,164.76L709.32,164.72L709.81,164.69L710.31,164.66L710.80,164.62L711.29,164.59L711.79,164.57L712.28,164.54L712.77,164.51L713.27,164.49L713.76,164.47L714.26,164.45L714.75,164.43L715.24,164.41L715.74,164.39L716.23,164.38L716.73,164.37L717.22,164.36L717.72,164.35L718.21,164.34L718.71,164.33L719.21,164.33L719.70,164.33L720.20,164.32L720.69,164.32L721.19,164.33L721.69,164.33L722.18,164.33L722.68,164.34L723.18,164.35L723.67,164.36L724.17,164.37L724.67,164.38L725.16,164.40L725.66,164.41L726.16,164.43L726.66,164.45L727.15,164.47L727.65,164.49L728.15,164.51L728.65,164.53L729.15,164.56L729.64,164.59L730.14,164.62L730.64,164.65L731.14,164.68L731.64,164.71L732.14,164.74L732.63,164.78L733.13,164.82L733.63,164.85L734.13,164.89L734.63,164.94L735.13,164.98L735.63,165.02L736.13,165.07L736.62,165.11L737.12,165.16L737.62,165.21L738.12,165.26L738.62,165.31L739.12,165.36L739.62,165.42L740.12,165.47L740.62,165.53L741.12,165.58L741.62,165.64L742.12,165.70L742.61,165.76L743.11,165.83L743.61,165.89L744.11,165.96L744.61,166.02L745.11,166.09L745.61,166.16L746.11,166.23L746.61,166.30L747.11,166.37L747.61,166.44L748.11,166.51L748.60,166.59L749.10,166.67L749.60,166.74L750.10,166.82L750.60,166.90L751.10,166.98L751.60,167.06L752.10,167.14L752.60,167.23L753.09,167.31L753.59,167.40L754.09,167.48L754.59,167.57L755.09,167.66L755.59,167.75L756.09,167.84L756.58,167.93L757.08,168.02L757.58,168.12L758.08,168.21L758.58,168.31L759.07,168.40L759.57,168.50L760.07,168.60L760.57,168.70L761.06,168.80L761.56,168.90L762.06,169.00L762.56,169.10L763.05,169.20L763.55,169.31L764.05,169.41L764.54,169.52L765.04,169.63L765.54,169.73L766.03,169.84L766.53,169.95L767.02,170.06L767.52,170.17L768.02,170.28L768.51,170.39L769.01,170.51L769.50,170.62L770.00,170.73L770.49,170.85L770.99,170.97L771.48,171.08L771.98,171.20L772.47,171.32L772.96,171.44L773.46,171.55L773.95,171.67L774.45,171.80L774.94,171.92L775.43,172.04L775.93,172.16L776.42,172.28L776.91,172.41L777.40,172.53L777.90,172.66L778.39,172.78L778.88,172.91L779.37,173.04L779.86,173.16L780.35,173.29L780.84,173.42L781.33,173.55L781.83,173.68L782.32,173.81L782.81,173.94L783.30,174.07L783.78,174.20L784.27,174.33L784.76,174.47L785.25,174.60L785.74,174.73L786.23,174.87L786.72,175.00L787.21,175.14L787.69,175.27L788.18,175.41L788.67,175.54L789.15,175.68L789.64,175.82L790.13,175.95L790.61,176.09L791.10,176.23L791.58,176.37L792.07,176.51L792.55,176.65L793.04,176.79L793.52,176.93L794.01,177.07L794.49,177.21L794.97,177.35L795.46,177.49L795.94,177.63L796.42,177.77L796.90,177.91L797.38,178.06L797.87,178.20L798.35,178.34L798.83,178.48L799.31,178.63L799.79,178.77L800.27,178.91L800.75,179.06L801.23,179.20L801.71,179.35L802.18,179.49L802.66,179.64L803.14,179.78L803.62,179.93L804.09,180.07L804.57,180.22L805.05,180.36L805.52,180.51L806.00,180.65L806.47,180.80L806.95,180.94L807.42,181.09L807.90,181.23L808.37,181.38L808.84,181.53L809.31,181.67L809.79,181.82L810.26,181.97L810.73,182.11L811.20,182.26L811.67,182.40L812.14,182.55L812.61,182.70L813.08,182.84L813.55,182.99L814.02,183.14L814.49,183.28L814.96,183.43L815.42,183.57L815.89,183.72L816.36,183.87L816.82,184.01L817.29,184.16L817.75,184.30L818.22,184.45L818.68,184.59L819.15,184.74L819.61,184.88L820.07,185.03L820.54,185.17L821.00,185.32L821.46,185.46L821.92,185.61L822.38,185.75L822.84,185.90L823.30,186.04L823.76,186.18L824.22,186.33L824.68,186.47L825.13,186.61L825.59,186.76L826.05,186.90L826.50,187.04L826.96,187.18L827.41,187.32L827.87,187.47L828.32,187.61L828.78,187.75L829.23,187.89L829.68,188.03" stroke="#98B954" stroke-dasharray="9.31 9.31" stroke-dashoffset="-0.3"/>
<path d="M70.96,111.10L70.98,111.62L71.00,112.14L71.03,112.66L71.05,113.17L71.07,113.69L71.10,114.21L71.12,114.72L71.15,115.24L71.17,115.75L71.20,116.27L71.23,116.78L71.25,117.30L71.28,117.81L71.31,118.32L71.34,118.84L71.37,119.35L71.40,119.86L71.44,120.37L71.47,120.88L71.50,121.39L71.54,121.90L71.57,122.41L71.60,122.92L71.64,123.43L71.68,123.93L71.71,124.44L71.75,124.95L71.79,125.46L71.83,125.96L71.86,126.47L71.90,126.97L71.94,127.48L71.98,127.98L72.03,128.49L72.07,128.99L72.11,129.49L72.15,130.00L72.20,130.50L72.24,131.00L72.28,131.51L72.33,132.01L72.37,132.51L72.42,133.01L72.47,133.51L72.51,134.01L72.56,134.51L72.61,135.01L72.66,135.51L72.71,136.01L72.76,136.51L72.81,137.01L72.86,137.50L72.91,138.00L72.96,138.50L73.01,139.00L73.07,139.49L73.12,139.99L73.17,140.49L73.23,140.98L73.28,141.48L73.34,141.97L73.39,142.47L73.45,142.97L73.51,143.46L73.56,143.95L73.62,144.45L73.68,144.94L73.74,145.44L73.80,145.93L73.85,146.42L73.91,146.92L73.97,147.41L74.03,147.90L74.10,148.39L74.16,148.89L74.22,149.38L74.28,149.87L74.34,150.36L74.41,150.85L74.47,151.35L74.53,151.84L74.60,152.33L74.66,152.82L74.73,153.31L74.79,153.80L74.86,154.29L74.93,154.78L74.99,155.27L75.06,155.76L75.13,156.25L75.20,156.74L75.26,157.23L75.33,157.72L75.40,158.20L75.47,158.69L75.54,159.18L75.61,159.67L75.68,160.16L75.75,160.65L75.82,161.14L75.90,161.62L75.97,162.11L76.04,162.60L76.11,163.09L76.18,163.58L76.26,164.06L76.33,164.55L76.41,165.04L76.48,165.53L76.55,166.01L76.63,166.50L76.70,166.99L76.78,167.47L76.86,167.96L76.93,168.45L77.01,168.94L77.08,169.42L77.16,169.91L77.24,170.40L77.32,170.88L77.39,171.37L77.47,171.86L77.55,172.34L77.63,172.83L77.71,173.32L77.79,173.80L77.87,174.29L77.95,174.78L78.03,175.26L78.11,175.75L78.19,176.24L78.27,176.72L78.35,177.21L78.43,177.70L78.51,178.18L78.59,178.67L78.68,179.16L78.76,179.65L78.84,180.13L78.92,180.62L79.01,181.11L79.09,181.59L79.17,182.08L79.26,182.57L79.34,183.06L79.42,183.54L79.51,184.03L79.59,184.52L79.68,185.01L79.76,185.49L79.85,185.98L79.93,186.47L80.02,186.96L80.10,187.45L80.19,187.94L80.28,188.42L80.36,188.91L80.45,189.40L80.53,189.89L80.62,190.38L80.71,190.87L80.79,191.36L80.88,191.85L80.97,192.34L81.06,192.83L81.14,193.32L81.23,193.81L81.32,194.30L81.41,194.79L81.49,195.28L81.58,195.77L81.67,196.26L81.76,196.75L81.85,197.24L81.94,197.73L82.03,198.22L82.11,198.72L82.20,199.21L82.29,199.70L82.38,200.19L82.47,200.69L82.56,201.18L82.65,201.67L82.74,202.17L82.83,202.66L82.92,203.15L83.01,203.65L83.10,204.14L83.19,204.64L83.28,205.13L83.37,205.63L83.46,206.12L83.55,206.62L83.64,207.11L83.73,207.61L83.82,208.11L83.91,208.60L84.00,209.10L84.09,209.60L84.18,210.10L84.27,210.59L84.36,211.09L84.45,211.59L84.54,212.09L84.63,212.59L84.72,213.09L84.81,213.59L84.90,214.09L85.00,214.59L85.09,215.09L85.18,215.59L85.27,216.09L85.36,216.59L85.45,217.10L85.54,217.60L85.63,218.10L85.72,218.60L85.82,219.11L85.91,219.61L86.00,220.11L86.09,220.61L86.19,221.12L86.28,221.62L86.38,222.12L86.47,222.63L86.56,223.13L86.66,223.63L86.76,224.14L86.85,224.64L86.95,225.14L87.05,225.64L87.14,226.15L87.24,226.65L87.34,227.15L87.44,227.65L87.54,228.16L87.64,228.66L87.75,229.16L87.85,229.66L87.95,230.16L88.06,230.66L88.16,231.16L88.27,231.66L88.38,232.16L88.49,232.66L88.60,233.16L88.71,233.66L88.82,234.16L88.93,234.66L89.04,235.15L89.16,235.65L89.27,236.15L89.39,236.64L89.51,237.14L89.62,237.63L89.75,238.13L89.87,238.62L89.99,239.11L90.11,239.61L90.24,240.10L90.36,240.59L90.49,241.08L90.62,241.57L90.75,242.06L90.88,242.55L91.02,243.03L91.15,243.52L91.29,244.01L91.43,244.49L91.57,244.98L91.71,245.46L91.85,245.94L92.00,246.42L92.14,246.90L92.29,247.38L92.44,247.86L92.59,248.34L92.74,248.82L92.90,249.29L93.06,249.77L93.21,250.24L93.37,250.71L93.54,251.18L93.70,251.65L93.87,252.12L94.03,252.59L94.21,253.06L94.38,253.52L94.55,253.99L94.73,254.45L94.91,254.91L95.09,255.37L95.27,255.83L95.45,256.29L95.64,256.75L95.83,257.20L96.02,257.66L96.21,258.11L96.41,258.56L96.61,259.01L96.81,259.46L97.01,259.91L97.22,260.35L97.43,260.80L97.64,261.24L97.85,261.68L98.06,262.12L98.28,262.56L98.50,263.00L98.72,263.43L98.95,263.86L99.18,264.29L99.41,264.72L99.64,265.15L99.88,265.58L100.12,266.00L100.36,266.43L100.60,266.85L100.85,267.27L101.10,267.69L101.35,268.10L101.61,268.52L101.87,268.93L102.13,269.34L102.39,269.75L102.66,270.15L102.93,270.56L103.20,270.96L103.48,271.36L103.76,271.76L104.04,272.16L104.33,272.55L104.62,272.94L104.91,273.33L105.20,273.72L105.50,274.11L105.80,274.49L106.11,274.87L106.42,275.25L106.73,275.63L107.04,276.01L107.36,276.38L107.68,276.75L108.01,277.12L108.33,277.49L108.66,277.85L109.00,278.22L109.33,278.58L109.67,278.94L110.01,279.30L110.35,279.66L110.70,280.01L111.04,280.37L111.39,280.72L111.75,281.07L112.10,281.42L112.46,281.77L112.82,282.12L113.18,282.46L113.54,282.81L113.90,283.15L114.27,283.49L114.63,283.83L115.00,284.17L115.37,284.51L115.75,284.85L116.12,285.19L116.49,285.52L116.87,285.86L117.24,286.19L117.62,286.52L118.00,286.86L118.38,287.19L118.76,287.52L119.14,287.85L119.52,288.18L119.91,288.51L120.29,288.84L120.67,289.17L121.06,289.50L121.44,289.83L121.83,290.16L122.21,290.49L122.60,290.82L122.98,291.15L123.37,291.47L123.75,291.80L124.14,292.13L124.52,292.46L124.91,292.79L125.29,293.11L125.67,293.44L126.06,293.77L126.44,294.10L126.82,294.43L127.20,294.76L127.58,295.09L127.96,295.42L128.34,295.75L128.72,296.09L129.09,296.42L129.47,296.75L129.84,297.09L130.22,297.42L130.59,297.76L130.96,298.09L131.33,298.43L131.69,298.77L132.06,299.11L132.42,299.45L132.79,299.79L133.15,300.13L133.50,300.48L133.86,300.82L134.21,301.17L134.57,301.51L134.92,301.86L135.27,302.21L135.61,302.56L135.96,302.91L136.30,303.27L136.64,303.62L136.98,303.98L137.31,304.34L137.65,304.70L137.98,305.06L138.31,305.42L138.64,305.78L138.97,306.15L139.29,306.51L139.62,306.88L139.94,307.25L140.25,307.62L140.57,307.99L140.89,308.37L141.20,308.74L141.51,309.12L141.82,309.50L142.12,309.88L142.43,310.26L142.73,310.64" stroke="#4073B8" stroke-dasharray="0.001 9.31" stroke-dashoffset="-1.0"/>
<path d="M142.73,310.64L143.03,311.03L143.33,311.42L143.63,311.81L143.92,312.20L144.21,312.59L144.50,312.98L144.79,313.38L145.08,313.78L145.36,314.18L145.64,314.58L145.92,314.98L146.20,315.39L146.48,315.79L146.75,316.20L147.02,316.61L147.29,317.03L147.56,317.44L147.82,317.86L148.09,318.28L148.35,318.70L148.61,319.12L148.86,319.55L149.12,319.97L149.37,320.40L149.62,320.83L149.87,321.27L150.12,321.70L150.36,322.14L150.60,322.58L150.85,323.02L151.09,323.46L151.32,323.90L151.56,324.35L151.79,324.79L152.03,325.24L152.26,325.69L152.49,326.14L152.72,326.59L152.94,327.04L153.17,327.50L153.39,327.95L153.62,328.41L153.84,328.87L154.06,329.33L154.28,329.78L154.49,330.25L154.71,330.71L154.93,331.17L155.14,331.63L155.35,332.09L155.57,332.56L155.78,333.02L155.99,333.49L156.20,333.96L156.41,334.42L156.61,334.89L156.82,335.36L157.03,335.82L157.23,336.29L157.44,336.76L157.64,337.23L157.85,337.70L158.05,338.17L158.25,338.63L158.46,339.10L158.66,339.57L158.86,340.04L159.06,340.51L159.26,340.98L159.46,341.45L159.66,341.91L159.86,342.38L160.06,342.85L160.26,343.31L160.46,343.78L160.66,344.25L160.86,344.71L161.06,345.18L161.26,345.64L161.46,346.10L161.67,346.57L161.87,347.03L162.07,347.49L162.27,347.95L162.47,348.41L162.67,348.87L162.87,349.32L163.08,349.78L163.28,350.23L163.48,350.69L163.69,351.14L163.89,351.59L164.10,352.04L164.30,352.49L164.51,352.94L164.72,353.38L164.92,353.83L165.13,354.27L165.34,354.71L165.55,355.15L165.76,355.59L165.97,356.03L166.19,356.47L166.40,356.90L166.61,357.34L166.83,357.77L167.04,358.21L167.26,358.64L167.48,359.07L167.69,359.50L167.91,359.93L168.13,360.37L168.35,360.80L168.57,361.23L168.79,361.66L169.01,362.09L169.23,362.52L169.46,362.95L169.68,363.38L169.91,363.81L170.13,364.24L170.36,364.67L170.58,365.10L170.81,365.53L171.04,365.96L171.27,366.39L171.49,366.83L171.72,367.26L171.95,367.70L172.19,368.13L172.42,368.57L172.65,369.00L172.88,369.44L173.12,369.88L173.35,370.32L173.59,370.76L173.82,371.20L174.06,371.65L174.30,372.09L174.53,372.54L174.77,372.99L175.01,373.44L175.25,373.89L175.49,374.34L175.73,374.80L175.97,375.25L176.22,375.71L176.46,376.17L176.70,376.64L176.95,377.10L177.19,377.57L177.44,378.04L177.68,378.51L177.93,378.98L178.18,379.45L178.43,379.93L178.68,380.40L178.93,380.88L179.19,381.35L179.45,381.83L179.70,382.30L179.97,382.77L180.23,383.24L180.49,383.70L180.76,384.17L181.03,384.63L181.31,385.09L181.59,385.54L181.87,385.99L182.15,386.44L182.44,386.88L182.73,387.32L183.03,387.75L183.33,388.17L183.63,388.59L183.94,389.00L184.26,389.41L184.58,389.81L184.90,390.20L185.23,390.58L185.56,390.96L185.90,391.32L186.24,391.68L186.59,392.03L186.95,392.37L187.31,392.70L187.68,393.01L188.06,393.32L188.44,393.61L188.83,393.90L189.22,394.17L189.62,394.43L190.02,394.68L190.44,394.91L190.85,395.13L191.27,395.34L191.69,395.53L192.12,395.70L192.55,395.86L192.99,396.01L193.43,396.13L193.87,396.25L194.31,396.34L194.76,396.42L195.20,396.47L195.65,396.51L196.10,396.53L196.55,396.53L197.00,396.51L197.45,396.48L197.90,396.42L198.35,396.35L198.80,396.26L199.25,396.15L199.70,396.03L200.14,395.90L200.59,395.75L201.03,395.58L201.47,395.41L201.90,395.22L202.34,395.02L202.77,394.81L203.20,394.60L203.62,394.37L204.04,394.13L204.45,393.89L204.86,393.64L205.27,393.38L205.67,393.12L206.07,392.85L206.46,392.57L206.85,392.29L207.24,391.99L207.62,391.70L208.00,391.39L208.37,391.08L208.74,390.77L209.11,390.45L209.47,390.12L209.83,389.79L210.18,389.45L210.53,389.11L210.88,388.76L211.22,388.41L211.56,388.05L211.90,387.68L212.23,387.32L212.57,386.94L212.89,386.57L213.22,386.19L213.54,385.80L213.86,385.41L214.17,385.02L214.48,384.62L214.79,384.22L215.10,383.82L215.40,383.41L215.70,383.00L216.00,382.58L216.29,382.17L216.59,381.75L216.88,381.32L217.16,380.90L217.45,380.47L217.73,380.04L218.01,379.61L218.29,379.17L218.57,378.73L218.84,378.29L219.11,377.85L219.38,377.41L219.65,376.97L219.92,376.52L220.18,376.08L220.44,375.63L220.70,375.18L220.96,374.73L221.22,374.28L221.47,373.83L221.73,373.38L221.98,372.93L222.23,372.47L222.48,372.02L222.73,371.57L222.97,371.12L223.22,370.66L223.46,370.21L223.71,369.76L223.95,369.30L224.19,368.85L224.43,368.40L224.67,367.95L224.90,367.49L225.14,367.04L225.37,366.59L225.61,366.13L225.84,365.68L226.07,365.23L226.30,364.77L226.53,364.32L226.76,363.87L226.99,363.41L227.22,362.96L227.45,362.51L227.67,362.06L227.90,361.60L228.12,361.15L228.35,360.70L228.57,360.25L228.79,359.79L229.02,359.34L229.24,358.89L229.46,358.44L229.68,357.99L229.90,357.53L230.12,357.08L230.34,356.63L230.56,356.18L230.78,355.73L231.00,355.28L231.22,354.83L231.43,354.38L231.65,353.93L231.87,353.48L232.09,353.03L232.31,352.58L232.52,352.13L232.74,351.68L232.96,351.23L233.18,350.79L233.39,350.34L233.61,349.89L233.83,349.44L234.05,349.00L234.27,348.55L234.48,348.10L234.70,347.66L234.92,347.21L235.14,346.77L235.36,346.32L235.58,345.88L235.80,345.43L236.02,344.99L236.24,344.55L236.46,344.10L236.68,343.66L236.91,343.22L237.13,342.78L237.35,342.34L237.58,341.90L237.80,341.46L238.03,341.02L238.25,340.58L238.48,340.14L238.71,339.70L238.94,339.26L239.16,338.82L239.39,338.39L239.63,337.95L239.86,337.52L240.09,337.08L240.32,336.65L240.56,336.21L240.79,335.78L241.03,335.35L241.27,334.92L241.51,334.48L241.75,334.05L241.99,333.62L242.23,333.19L242.48,332.76L242.72,332.34L242.97,331.91L243.22,331.48L243.47,331.06L243.72,330.63L243.97,330.21L244.22,329.78L244.48,329.36L244.73,328.94L244.99,328.51L245.25,328.09L245.51,327.67L245.77,327.25L246.04,326.83L246.31,326.41L246.57,326.00L246.84,325.58L247.11,325.16L247.39,324.75L247.66,324.34L247.94,323.92L248.22,323.51L248.50,323.10L248.78,322.69L249.07,322.28L249.35,321.87L249.64,321.46L249.93,321.05L250.23,320.65L250.52,320.24L250.82,319.84L251.12,319.43L251.42,319.03L251.73,318.63L252.03,318.23L252.34,317.83L252.65,317.43L252.96,317.03L253.28,316.63L253.60,316.24L253.92,315.84L254.24,315.45L254.57,315.05L254.90,314.66L255.23,314.27L255.56,313.88L255.90,313.49L256.24,313.11L256.58,312.72L256.92,312.34L257.26,311.96L257.61,311.58L257.96,311.20L258.32,310.83L258.67,310.46L259.03,310.09L259.39,309.72L259.75,309.36L260.11,309.00L260.48,308.64L260.85,308.28L261.22,307.93L261.59,307.58L261.97,307.24L262.35,306.90L262.73,306.56L263.11,306.22L263.49,305.89L263.88,305.57L264.27,305.24L264.66,304.92L265.05,304.61L265.45,304.30L265.85,303.99L266.25,303.69L266.65,303.40L267.05,303.11L267.46,302.82L267.86,302.54L268.27,302.26L268.68,301.99L269.10,301.73L269.51,301.47L269.93,301.21L270.35,300.96L270.77,300.72L271.19,300.49L271.62,300.25L272.05,300.03L272.48,299.81L272.91,299.60L273.34,299.39L273.77,299.20L274.21,299.00L274.65,298.82L275.09,298.64L275.53,298.47L275.97,298.31L276.42,298.15L276.86,298.00L277.31,297.86L277.76,297.72L278.21,297.60L278.67,297.48L279.12,297.37L279.58,297.27L280.04,297.17L280.50,297.09L280.96,297.01L281.42,296.94L281.89,296.88L282.36,296.83L282.82,296.79L283.29,296.75L283.76,296.73L284.24,296.71L284.71,296.71L285.19,296.71L285.66,296.72L286.14,296.74L286.62,296.77L287.10,296.81L287.58,296.85L288.07,296.91L288.55,296.97L289.04,297.03L289.53,297.11L290.01,297.19L290.50,297.28L290.99,297.38L291.48,297.48L291.97,297.59L292.47,297.70L292.96,297.82L293.45,297.95L293.95,298.08L294.44,298.22L294.94,298.36L295.43,298.51L295.93,298.66L296.43,298.82L296.92,298.98L297.42,299.14L297.92,299.31L298.42,299.48L298.92,299.65L299.42,299.83L299.91,300.01L300.41,300.19L300.91,300.38L301.41,300.57L301.91,300.76L302.41,300.95L302.91,301.15L303.41,301.34L303.91,301.54L304.41,301.74L304.90,301.94L305.40,302.14L305.90,302.34L306.40,302.54L306.89,302.74L307.39,302.94L307.88,303.14L308.38,303.34L308.87,303.54L309.37,303.73L309.86,303.93L310.35,304.13L310.84,304.32L311.33,304.51L311.82,304.70L312.31,304.89L312.80,305.08L313.29,305.26L313.77,305.44L314.26,305.62L314.74,305.80L315.23,305.97L315.71,306.14L316.19,306.31L316.67,306.48L317.15,306.64L317.63,306.80L318.11,306.96L318.59,307.12L319.07,307.27L319.55,307.42L320.03,307.56L320.51,307.70L320.98,307.84L321.46,307.98L321.94,308.11L322.41,308.24L322.89,308.37L323.36,308.49L323.84,308.61L324.31,308.72L324.79,308.84L325.27,308.94L325.74,309.05L326.22,309.15L326.69,309.24L327.17,309.34L327.64,309.42L328.12,309.51L328.59,309.59L329.07,309.66L329.54,309.73L330.02,309.80L330.50,309.86L330.97,309.92L331.45,309.98L331.93,310.03L332.40,310.07L332.88,310.11L333.36,310.15L333.84,310.18L334.32,310.20L334.80,310.22L335.28,310.24L335.76,310.25L336.24,310.25L336.72,310.25L337.21,310.25L337.69,310.24L338.18,310.22L338.66,310.20L339.15,310.18L339.63,310.15L340.12,310.11L340.61,310.07L341.10,310.02L341.59,309.97L342.08,309.91L342.57,309.85L343.06,309.78L343.55,309.71L344.04,309.64L344.53,309.56L345.02,309.47L345.51,309.38L346.01,309.29L346.50,309.19L346.99,309.09L347.48,308.98L347.97,308.87L348.46,308.75L348.95,308.63L349.44,308.51L349.93,308.38L350.42,308.25L350.91,308.12L351.40,307.98L351.89,307.84L352.38,307.69L352.86,307.54L353.35,307.39" stroke="#4073B8" stroke-dasharray="0.001 9.31" stroke-dashoffset="-0.8"/>
<path d="M353.35,307.39L353.83,307.23L354.32,307.07L354.80,306.91L355.29,306.74L355.77,306.58L356.25,306.40L356.73,306.23L357.21,306.05L357.68,305.87L358.16,305.68L358.63,305.50L359.11,305.31L359.58,305.12L360.05,304.92L360.52,304.72L360.99,304.52L361.45,304.32L361.92,304.12L362.38,303.91L362.84,303.70L363.30,303.49L363.76,303.28L364.22,303.06L364.67,302.84L365.12,302.62L365.58,302.40L366.03,302.18L366.47,301.95L366.92,301.72L367.37,301.49L367.81,301.26L368.25,301.03L368.70,300.79L369.14,300.56L369.57,300.32L370.01,300.08L370.45,299.83L370.88,299.59L371.32,299.34L371.75,299.09L372.18,298.84L372.61,298.59L373.04,298.34L373.46,298.08L373.89,297.83L374.32,297.57L374.74,297.31L375.16,297.05L375.58,296.78L376.00,296.52L376.42,296.25L376.84,295.99L377.26,295.72L377.68,295.45L378.09,295.18L378.51,294.90L378.92,294.63L379.33,294.36L379.75,294.08L380.16,293.80L380.57,293.52L380.98,293.24L381.39,292.96L381.79,292.68L382.20,292.40L382.61,292.11L383.01,291.83L383.42,291.54L383.82,291.25L384.23,290.96L384.63,290.67L385.03,290.38L385.43,290.09L385.83,289.80L386.24,289.51L386.64,289.21L387.04,288.92L387.43,288.62L387.83,288.33L388.23,288.03L388.63,287.73L389.03,287.43L389.42,287.13L389.82,286.84L390.22,286.54L390.61,286.23L391.01,285.93L391.40,285.63L391.80,285.33L392.19,285.03L392.59,284.72L392.98,284.42L393.37,284.12L393.77,283.81L394.16,283.51L394.56,283.20L394.95,282.90L395.34,282.59L395.74,282.28L396.13,281.98L396.52,281.67L396.92,281.37L397.31,281.06L397.70,280.75L398.09,280.44L398.49,280.14L398.88,279.83L399.27,279.52L399.67,279.22L400.06,278.91L400.46,278.60L400.85,278.30L401.24,277.99L401.64,277.68L402.03,277.38L402.43,277.07L402.82,276.76L403.22,276.46L403.61,276.15L404.01,275.85L404.41,275.54L404.80,275.24L405.20,274.93L405.60,274.63L406.00,274.33L406.40,274.02L406.80,273.72L407.20,273.42L407.60,273.12L408.00,272.82L408.40,272.51L408.80,272.21L409.20,271.92L409.60,271.62L410.01,271.32L410.41,271.02L410.82,270.72L411.22,270.43L411.63,270.13L412.04,269.84L412.45,269.55L412.85,269.25L413.26,268.96L413.67,268.67L414.09,268.38L414.50,268.09L414.91,267.80L415.32,267.52L415.74,267.23L416.15,266.94L416.57,266.66L416.99,266.38L417.41,266.09L417.83,265.81L418.25,265.53L418.67,265.25L419.09,264.98L419.51,264.70L419.94,264.43L420.36,264.15L420.79,263.88L421.21,263.61L421.64,263.34L422.07,263.07L422.50,262.80L422.93,262.53L423.36,262.27L423.79,262.00L424.22,261.74L424.65,261.48L425.09,261.22L425.52,260.96L425.96,260.70L426.39,260.44L426.83,260.19L427.27,259.93L427.71,259.68L428.15,259.43L428.59,259.18L429.03,258.93L429.47,258.69L429.91,258.44L430.35,258.20L430.80,257.96L431.24,257.72L431.69,257.48L432.13,257.24L432.58,257.01L433.03,256.77L433.47,256.54L433.92,256.31L434.37,256.08L434.82,255.85L435.27,255.63L435.73,255.40L436.18,255.18L436.63,254.96L437.08,254.74L437.54,254.52L437.99,254.31L438.45,254.09L438.90,253.88L439.36,253.67L439.82,253.46L440.28,253.25L440.74,253.05L441.19,252.85L441.65,252.64L442.12,252.44L442.58,252.25L443.04,252.05L443.50,251.86L443.96,251.67L444.43,251.48L444.89,251.29L445.36,251.10L445.82,250.92L446.29,250.74L446.75,250.56L447.22,250.38L447.69,250.20L448.15,250.03L448.62,249.86L449.09,249.69L449.56,249.52L450.03,249.36L450.50,249.19L450.97,249.03L451.45,248.87L451.92,248.72L452.39,248.56L452.86,248.41L453.34,248.26L453.81,248.11L454.29,247.97L454.76,247.82L455.24,247.68L455.71,247.54L456.19,247.41L456.66,247.27L457.14,247.14L457.62,247.01L458.10,246.88L458.58,246.76L459.06,246.64L459.54,246.52L460.01,246.40L460.50,246.28L460.98,246.17L461.46,246.06L461.94,245.95L462.42,245.85L462.90,245.74L463.38,245.64L463.87,245.55L464.35,245.45L464.83,245.36L465.32,245.27L465.80,245.18L466.29,245.10L466.77,245.01L467.26,244.93L467.74,244.86L468.23,244.78L468.72,244.71L469.20,244.64L469.69,244.58L470.18,244.51L470.66,244.45L471.15,244.39L471.64,244.34L472.13,244.29L472.62,244.24L473.11,244.19L473.60,244.15L474.09,244.11L474.58,244.07L475.07,244.03L475.56,244.00L476.05,243.97L476.54,243.94L477.03,243.92L477.52,243.90L478.01,243.88L478.50,243.86L478.99,243.85L479.49,243.84L479.98,243.83L480.47,243.83L480.96,243.83L481.46,243.83L481.95,243.83L482.44,243.84L482.93,243.85L483.43,243.86L483.92,243.87L484.42,243.89L484.91,243.91L485.40,243.93L485.90,243.95L486.39,243.98L486.88,244.01L487.38,244.04L487.87,244.08L488.37,244.11L488.86,244.15L489.35,244.19L489.85,244.24L490.34,244.28L490.84,244.33L491.33,244.38L491.83,244.44L492.32,244.49L492.82,244.55L493.31,244.61L493.80,244.68L494.30,244.74L494.79,244.81L495.29,244.88L495.78,244.95L496.27,245.02L496.77,245.10L497.26,245.18L497.76,245.26L498.25,245.34L498.74,245.43L499.24,245.51L499.73,245.60L500.22,245.69L500.72,245.79L501.21,245.88L501.70,245.98L502.20,246.08L502.69,246.18L503.18,246.28L503.67,246.39L504.17,246.50L504.66,246.61L505.15,246.72L505.64,246.83L506.13,246.95L506.63,247.06L507.12,247.18L507.61,247.30L508.10,247.42L508.59,247.55L509.08,247.67L509.57,247.80L510.06,247.93L510.55,248.06L511.04,248.19L511.52,248.33L512.01,248.47L512.50,248.60L512.99,248.74L513.48,248.88L513.96,249.03L514.45,249.17L514.94,249.32L515.42,249.47L515.91,249.62L516.39,249.77L516.88,249.92L517.36,250.07L517.85,250.23L518.33,250.38L518.82,250.54L519.30,250.70L519.78,250.86L520.27,251.03L520.75,251.19L521.23,251.36L521.71,251.52L522.19,251.69L522.67,251.86L523.15,252.03L523.63,252.20L524.11,252.38L524.59,252.55L525.07,252.73L525.54,252.91L526.02,253.08L526.50,253.26L526.97,253.44L527.45,253.63L527.92,253.81L528.40,253.99L528.87,254.18L529.34,254.37L529.82,254.55L530.29,254.74L530.76,254.93L531.23,255.12L531.70,255.32L532.17,255.51L532.64,255.70L533.11,255.90L533.58,256.09L534.04,256.29L534.51,256.49L534.98,256.69L535.44,256.89L535.91,257.09L536.37,257.29L536.83,257.49L537.30,257.69L537.76,257.90L538.22,258.10L538.68,258.31L539.14,258.51L539.60,258.72L540.06,258.93L540.52,259.14L540.98,259.35L541.43,259.56L541.89,259.77L542.34,259.98L542.80,260.19L543.25,260.41L543.71,260.62L544.16,260.83L544.61,261.05L545.06,261.27L545.51,261.48L545.96,261.70L546.41,261.92L546.86,262.14L547.31,262.35L547.76,262.57L548.21,262.79L548.65,263.02L549.10,263.24L549.55,263.46L549.99,263.68L550.44,263.91L550.88,264.13L551.33,264.35L551.77,264.58L552.21,264.81L552.66,265.03L553.10,265.26L553.54,265.49L553.98,265.71L554.42,265.94L554.86,266.17L555.30,266.40L555.74,266.63L556.18,266.86L556.62,267.09L557.06,267.32L557.50,267.56L557.93,267.79L558.37,268.02L558.81,268.25L559.24,268.49L559.68,268.72L560.12,268.96L560.55,269.19L560.99,269.43L561.42,269.66L561.86,269.90L562.29,270.14L562.72,270.37" stroke="#4073B8" stroke-dasharray="0.001 9.31" stroke-dashoffset="0.3"/>
<path d="M562.72,270.37L563.16,270.61L563.59,270.85L564.03,271.09L564.46,271.33L564.89,271.56L565.32,271.80L565.76,272.04L566.19,272.28L566.62,272.52L567.05,272.76L567.48,273.01L567.91,273.25L568.34,273.49L568.78,273.73L569.21,273.97L569.64,274.21L570.07,274.46L570.50,274.70L570.93,274.94L571.36,275.19L571.79,275.43L572.22,275.67L572.65,275.92L573.07,276.16L573.50,276.41L573.93,276.65L574.36,276.89L574.79,277.14L575.22,277.38L575.65,277.63L576.08,277.88L576.51,278.12L576.94,278.37L577.37,278.61L577.79,278.86L578.22,279.10L578.65,279.35L579.08,279.60L579.51,279.84L579.94,280.09L580.37,280.34L580.80,280.58L581.23,280.83L581.65,281.08L582.08,281.32L582.51,281.57L582.94,281.82L583.37,282.07L583.80,282.31L584.23,282.56L584.66,282.81L585.09,283.05L585.52,283.30L585.95,283.55L586.38,283.79L586.81,284.04L587.24,284.29L587.67,284.54L588.10,284.78L588.53,285.03L588.96,285.28L589.40,285.52L589.83,285.77L590.26,286.02L590.69,286.26L591.12,286.51L591.56,286.75L591.99,287.00L592.42,287.25L592.85,287.49L593.29,287.74L593.72,287.98L594.16,288.23L594.59,288.47L595.02,288.72L595.46,288.96L595.89,289.21L596.33,289.45L596.77,289.70L597.20,289.94L597.64,290.19L598.08,290.43L598.51,290.67L598.95,290.92L599.39,291.16L599.83,291.40L600.26,291.65L600.70,291.89L601.14,292.13L601.58,292.37L602.02,292.61L602.46,292.85L602.90,293.10L603.34,293.34L603.78,293.58L604.22,293.82L604.66,294.06L605.10,294.30L605.55,294.54L605.99,294.78L606.43,295.01L606.87,295.25L607.32,295.49L607.76,295.73L608.20,295.97L608.65,296.20L609.09,296.44L609.54,296.68L609.98,296.91L610.43,297.15L610.87,297.38L611.32,297.62L611.76,297.85L612.21,298.09L612.65,298.32L613.10,298.55L613.55,298.79L614.00,299.02L614.44,299.25L614.89,299.48L615.34,299.71L615.79,299.95L616.24,300.18L616.69,300.41L617.13,300.64L617.58,300.86L618.03,301.09L618.48,301.32L618.93,301.55L619.39,301.78L619.84,302.00L620.29,302.23L620.74,302.46L621.19,302.68L621.64,302.91L622.10,303.13L622.55,303.35L623.00,303.58L623.45,303.80L623.91,304.02L624.36,304.24L624.81,304.46L625.27,304.68L625.72,304.90L626.18,305.12L626.63,305.34L627.09,305.56L627.54,305.78L628.00,306.00L628.46,306.21L628.91,306.43L629.37,306.64L629.83,306.86L630.28,307.07L630.74,307.29L631.20,307.50L631.66,307.71L632.11,307.92L632.57,308.13L633.03,308.34L633.49,308.55L633.95,308.76L634.41,308.97L634.87,309.18L635.33,309.39L635.79,309.59L636.25,309.80L636.71,310.00L637.17,310.21L637.63,310.41L638.09,310.62L638.56,310.82L639.02,311.02L639.48,311.22L639.94,311.42L640.40,311.62L640.87,311.82L641.33,312.02L641.79,312.21L642.26,312.41L642.72,312.60L643.19,312.80L643.65,312.99L644.12,313.19L644.58,313.38L645.05,313.57L645.51,313.76L645.98,313.95L646.44,314.14L646.91,314.33L647.38,314.52L647.84,314.71L648.31,314.89L648.78,315.08L649.24,315.26L649.71,315.44L650.18,315.63L650.65,315.81L651.12,315.99L651.58,316.17L652.05,316.35L652.52,316.53L652.99,316.71L653.46,316.88L653.93,317.06L654.40,317.23L654.87,317.41L655.34,317.58L655.81,317.75L656.28,317.92L656.75,318.09L657.22,318.26L657.70,318.43L658.17,318.60L658.64,318.77L659.11,318.93L659.58,319.10L660.06,319.26L660.53,319.42L661.00,319.58L661.48,319.74L661.95,319.90L662.42,320.06L662.90,320.22L663.37,320.38L663.85,320.53L664.32,320.69L664.80,320.84L665.27,320.99L665.75,321.15L666.22,321.30L666.70,321.45L667.17,321.59L667.65,321.74L668.13,321.89L668.60,322.03L669.08,322.18L669.56,322.32L670.03,322.46L670.51,322.60L670.99,322.74L671.47,322.88L671.95,323.02L672.42,323.16L672.90,323.29L673.38,323.43L673.86,323.56L674.34,323.69L674.82,323.82L675.30,323.95L675.78,324.08L676.26,324.21L676.74,324.34L677.22,324.46L677.70,324.59L678.18,324.71L678.66,324.83L679.14,324.95L679.62,325.07L680.10,325.19L680.59,325.31L681.07,325.42L681.55,325.54L682.03,325.65L682.52,325.76L683.00,325.87L683.48,325.98L683.96,326.09L684.45,326.20L684.93,326.30L685.41,326.41L685.90,326.51L686.38,326.61L686.87,326.71L687.35,326.81L687.84,326.91L688.32,327.01L688.81,327.11L689.29,327.20L689.78,327.29L690.26,327.38L690.75,327.47L691.23,327.56L691.72,327.65L692.21,327.74L692.69,327.82L693.18,327.91L693.67,327.99L694.15,328.07L694.64,328.15L695.13,328.23L695.62,328.31L696.10,328.38L696.59,328.45L697.08,328.53L697.57,328.60L698.06,328.67L698.55,328.74L699.04,328.80L699.52,328.87L700.01,328.93L700.50,329.00L700.99,329.06L701.48,329.12L701.97,329.18L702.46,329.23L702.95,329.29L703.44,329.34L703.93,329.40L704.42,329.45L704.92,329.50L705.41,329.55L705.90,329.59L706.39,329.64L706.88,329.68L707.37,329.72L707.87,329.77L708.36,329.80L708.85,329.84L709.34,329.88L709.83,329.91L710.33,329.95L710.82,329.98L711.31,330.01L711.81,330.04L712.30,330.06L712.79,330.09L713.29,330.11L713.78,330.13L714.28,330.15L714.77,330.17L715.26,330.19L715.76,330.21L716.25,330.22L716.75,330.23L717.24,330.24L717.74,330.25L718.23,330.26L718.73,330.27L719.23,330.27L719.72,330.27L720.22,330.28L720.71,330.28L721.21,330.27L721.71,330.27L722.20,330.27L722.70,330.26L723.20,330.25L723.69,330.24L724.19,330.23L724.69,330.22L725.18,330.20L725.68,330.19L726.18,330.17L726.68,330.15L727.17,330.13L727.67,330.11L728.17,330.09L728.67,330.06L729.16,330.04L729.66,330.01L730.16,329.98L730.66,329.95L731.16,329.92L731.65,329.89L732.15,329.85L732.65,329.82L733.15,329.78L733.65,329.74L734.15,329.70L734.65,329.66L735.14,329.62L735.64,329.58L736.14,329.53L736.64,329.49L737.14,329.44L737.64,329.39L738.14,329.34L738.64,329.29L739.14,329.24L739.64,329.18L740.13,329.13L740.63,329.07L741.13,329.01L741.63,328.95L742.13,328.89L742.63,328.83L743.13,328.77L743.63,328.71L744.13,328.64L744.63,328.58L745.13,328.51L745.62,328.44L746.12,328.37L746.62,328.30L747.12,328.23L747.62,328.16L748.12,328.08L748.62,328.01L749.12,327.93L749.62,327.86L750.12,327.78L750.61,327.70L751.11,327.62L751.61,327.54L752.11,327.45L752.61,327.37L753.11,327.29L753.61,327.20L754.11,327.11L754.60,327.03L755.10,326.94L755.60,326.85L756.10,326.76L756.60,326.67L757.10,326.57L757.59,326.48L758.09,326.39L758.59,326.29L759.09,326.19L759.58,326.10L760.08,326.00L760.58,325.90L761.08,325.80L761.57,325.70L762.07,325.60L762.57,325.50L763.06,325.39L763.56,325.29L764.06,325.18L764.55,325.08L765.05,324.97L765.55,324.86L766.04,324.76L766.54,324.65L767.04,324.54L767.53,324.43L768.03,324.32L768.52,324.20L769.02,324.09L769.51,323.98L770.01,323.86L770.50,323.75L771.00,323.63L771.49,323.52L771.99,323.40L772.48,323.28L772.97,323.16L773.47,323.04L773.96,322.92L774.46,322.80L774.95,322.68L775.44,322.56L775.93,322.44L776.43,322.31L776.92,322.19L777.41,322.07L777.90,321.94L778.40,321.81L778.89,321.69L779.38,321.56L779.87,321.43L780.36,321.31L780.85,321.18L781.34,321.05L781.83,320.92L782.32,320.79L782.81,320.66L783.30,320.53L783.79,320.40L784.28,320.26L784.77,320.13L785.26,320.00L785.75,319.87L786.24,319.73L786.72,319.60L787.21,319.46L787.70,319.33L788.19,319.19L788.67,319.05L789.16,318.92L789.65,318.78L790.13,318.64L790.62,318.51L791.10,318.37L791.59,318.23L792.08,318.09L792.56,317.95L793.04,317.81L793.53,317.67L794.01,317.53L794.50,317.39L794.98,317.25L795.46,317.11L795.94,316.97L796.43,316.83L796.91,316.68L797.39,316.54L797.87,316.40L798.35,316.26L798.83,316.11L799.31,315.97L799.79,315.83L800.27,315.68L800.75,315.54L801.23,315.40L801.71,315.25L802.19,315.11L802.67,314.96L803.14,314.82L803.62,314.67L804.10,314.53L804.57,314.38L805.05,314.24L805.53,314.09L806.00,313.95L806.48,313.80L806.95,313.66L807.43,313.51L807.90,313.36L808.37,313.22L808.85,313.07L809.32,312.93L809.79,312.78L810.26,312.63L810.73,312.49L811.21,312.34L811.68,312.19L812.15,312.05L812.62,311.90L813.09,311.76L813.55,311.61L814.02,311.46L814.49,311.32L814.96,311.17L815.43,311.03L815.89,310.88L816.36,310.73L816.83,310.59L817.29,310.44L817.76,310.30L818.22,310.15L818.68,310.01L819.15,309.86L819.61,309.71L820.07,309.57L820.54,309.43L821.00,309.28L821.46,309.14L821.92,308.99L822.38,308.85L822.84,308.70L823.30,308.56L823.76,308.42L824.22,308.27L824.68,308.13L825.13,307.99L825.59,307.84L826.05,307.70L826.50,307.56L826.96,307.42L827.41,307.28L827.87,307.13L828.32,306.99L828.78,306.85L829.23,306.71L829.68,306.57" stroke="#4073B8" stroke-dasharray="0.001 9.31" stroke-dashoffset="-0.3"/>
</g>
<text x="50.7" y="23.1" text-anchor="end" class="t">3</text>
<text x="50.7" y="100.4" text-anchor="end" class="t">2</text>
<text x="50.7" y="177.6" text-anchor="end" class="t">1</text>
<text x="50.7" y="255.5" text-anchor="end" class="t">0</text>
<text x="50.7" y="332.6" text-anchor="end" class="t">-1</text>
<text x="50.7" y="409.7" text-anchor="end" class="t">-2</text>
<text x="50.7" y="486.8" text-anchor="end" class="t">-3</text>
<text x="71.6" y="284.5" text-anchor="middle" class="t">210</text>
<text x="230.1" y="284.5" text-anchor="middle" class="t">260</text>
<text x="387.6" y="284.5" text-anchor="middle" class="t">310</text>
<text x="545.2" y="284.5" text-anchor="middle" class="t">360</text>
<text x="704.1" y="284.5" text-anchor="middle" class="t">410</text>
<g fill="none" stroke-width="4.65" stroke-linecap="round">
<line x1="590.5" y1="8.5" x2="652.8" y2="8.5" stroke="#BC4744"/>
<line x1="590.8" y1="50.5" x2="652.8" y2="50.5" stroke="#98B954" stroke-dasharray="9.31 9.31"/>
<line x1="590.9" y1="91.6" x2="652.8" y2="91.6" stroke="#4073B8" stroke-dasharray="0.001 9.31"/>
</g>
<text x="660" y="16.8" class="b">Exp. for 2</text>
<text x="660" y="58.6" class="b">Cal. for (2R,3S)-2</text>
<text x="660" y="99.6" class="b">Cal. for (2S,3R)-2</text>
<text x="450.5" y="489.9" text-anchor="middle" class="b">Wavelength (nm)</text>
<text transform="translate(20.2,248.2) rotate(-90)" text-anchor="middle" class="b">Δε (M<tspan font-size="16" dy="-9">-1</tspan><tspan dy="9"> cm</tspan><tspan font-size="16" dy="-9">-1</tspan><tspan dy="9">)</tspan></text>
</svg>
</body></html>
